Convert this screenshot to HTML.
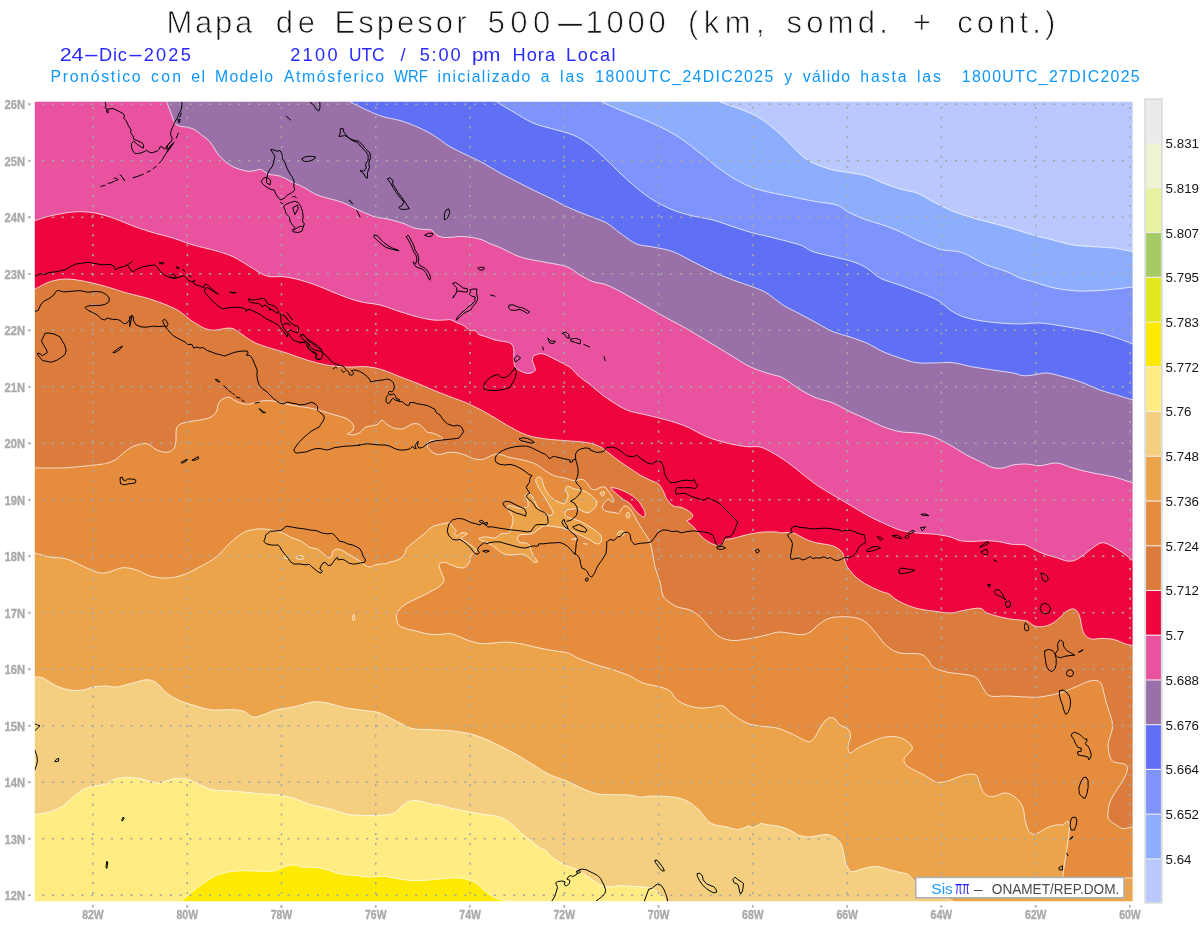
<!DOCTYPE html>
<html lang="es"><head><meta charset="utf-8"><title>Mapa de Espesor 500-1000</title>
<style>html,body{margin:0;padding:0;background:#fff}svg{display:block}</style></head>
<body>
<svg width="1200" height="927" viewBox="0 0 1200 927">
<rect width="1200" height="927" fill="#fff"/>
<defs><clipPath id="mc"><rect x="34" y="101" width="1100" height="801"/></clipPath></defs>
<g clip-path="url(#mc)">
<rect x="30" y="98" width="1110" height="810" fill="#b9c8ff"/>
<path d="M720 102 C725 103.8 742.2 109.5 750 113 C757.8 116.5 761.2 119 766.7 123 C772.2 127 777.5 131.5 783 136.7 C788.5 141.9 795 149.6 800 154 C805 158.4 807.5 160.3 813 163 C818.5 165.7 826.8 168.4 833 170 C839.2 171.6 844.4 171.7 850 172.7 C855.6 173.7 861.2 174.3 866.7 176 C872.2 177.7 877.5 180.8 883 183 C888.5 185.2 894.4 187.3 900 189 C905.6 190.7 911.2 190.9 916.7 193 C922.2 195.1 927.5 198.9 933 201.7 C938.5 204.5 944.4 207.6 950 210 C955.6 212.4 960.6 214.1 966.7 216 C972.8 217.9 980 219.9 986.7 221.7 C993.4 223.5 999 224.8 1006.7 227 C1014.4 229.2 1025.3 232.8 1033 235 C1040.7 237.2 1046.3 238.3 1053 240 C1059.7 241.7 1066.3 243.9 1073 245 C1079.7 246.1 1086.3 246.2 1093 246.7 C1099.7 247.2 1106.3 247.2 1113 248 C1119.7 248.8 1129.7 251.1 1133 251.7 L1134 251 L1134 903 L32 903 L32 99 L720 99 Z" fill="#8daeff"/>
<path d="M720 102 C725 103.8 742.2 109.5 750 113 C757.8 116.5 761.2 119 766.7 123 C772.2 127 777.5 131.5 783 136.7 C788.5 141.9 795 149.6 800 154 C805 158.4 807.5 160.3 813 163 C818.5 165.7 826.8 168.4 833 170 C839.2 171.6 844.4 171.7 850 172.7 C855.6 173.7 861.2 174.3 866.7 176 C872.2 177.7 877.5 180.8 883 183 C888.5 185.2 894.4 187.3 900 189 C905.6 190.7 911.2 190.9 916.7 193 C922.2 195.1 927.5 198.9 933 201.7 C938.5 204.5 944.4 207.6 950 210 C955.6 212.4 960.6 214.1 966.7 216 C972.8 217.9 980 219.9 986.7 221.7 C993.4 223.5 999 224.8 1006.7 227 C1014.4 229.2 1025.3 232.8 1033 235 C1040.7 237.2 1046.3 238.3 1053 240 C1059.7 241.7 1066.3 243.9 1073 245 C1079.7 246.1 1086.3 246.2 1093 246.7 C1099.7 247.2 1106.3 247.2 1113 248 C1119.7 248.8 1129.7 251.1 1133 251.7" fill="none" stroke="#fff" stroke-opacity=".92" stroke-width=".8"/>

<path d="M601.7 102 C604.8 103.3 613.6 107.3 620 110 C626.4 112.7 633.3 115.2 640 118 C646.7 120.8 653.3 123.4 660 126.7 C666.7 130 673.3 133.6 680 138 C686.7 142.4 693.9 148.2 700 153 C706.1 157.8 711.2 162.5 716.7 166.7 C722.2 170.9 727.5 174.7 733 178 C738.5 181.3 744.4 184.4 750 186.7 C755.6 189 761.2 190.3 766.7 191.7 C772.2 193.1 777.5 193.9 783 195 C788.5 196.1 794.4 197.4 800 198.5 C805.6 199.6 810.6 200.6 816.7 201.7 C822.8 202.8 831.2 203.1 836.7 205 C842.2 206.9 845 210.5 850 213 C855 215.5 861.2 218 866.7 220 C872.2 222 877.5 223.1 883 225 C888.5 226.9 894.4 229.2 900 231.7 C905.6 234.2 911.2 237.5 916.7 240 C922.2 242.5 928.6 245 933 246.7 C937.4 248.4 938.5 249.1 943 250 C947.5 250.9 955 250.7 960 252 C965 253.3 968.5 255.8 973 258 C977.5 260.2 981.1 262.7 986.7 265 C992.3 267.3 1001.2 269.5 1006.7 271.7 C1012.2 273.9 1015.6 276.3 1020 278 C1024.4 279.7 1027.5 280.1 1033 281.7 C1038.5 283.3 1046.3 286.2 1053 287.7 C1059.7 289.2 1067.4 290.1 1073 290.7 C1078.6 291.2 1081.1 291.1 1086.7 291 C1092.3 290.9 1099 290.7 1106.7 290 C1114.4 289.3 1128.6 287.5 1133 287 L1134 287 L1134 903 L32 903 L32 99 L601.7 99 Z" fill="#7e93fc"/>
<path d="M601.7 102 C604.8 103.3 613.6 107.3 620 110 C626.4 112.7 633.3 115.2 640 118 C646.7 120.8 653.3 123.4 660 126.7 C666.7 130 673.3 133.6 680 138 C686.7 142.4 693.9 148.2 700 153 C706.1 157.8 711.2 162.5 716.7 166.7 C722.2 170.9 727.5 174.7 733 178 C738.5 181.3 744.4 184.4 750 186.7 C755.6 189 761.2 190.3 766.7 191.7 C772.2 193.1 777.5 193.9 783 195 C788.5 196.1 794.4 197.4 800 198.5 C805.6 199.6 810.6 200.6 816.7 201.7 C822.8 202.8 831.2 203.1 836.7 205 C842.2 206.9 845 210.5 850 213 C855 215.5 861.2 218 866.7 220 C872.2 222 877.5 223.1 883 225 C888.5 226.9 894.4 229.2 900 231.7 C905.6 234.2 911.2 237.5 916.7 240 C922.2 242.5 928.6 245 933 246.7 C937.4 248.4 938.5 249.1 943 250 C947.5 250.9 955 250.7 960 252 C965 253.3 968.5 255.8 973 258 C977.5 260.2 981.1 262.7 986.7 265 C992.3 267.3 1001.2 269.5 1006.7 271.7 C1012.2 273.9 1015.6 276.3 1020 278 C1024.4 279.7 1027.5 280.1 1033 281.7 C1038.5 283.3 1046.3 286.2 1053 287.7 C1059.7 289.2 1067.4 290.1 1073 290.7 C1078.6 291.2 1081.1 291.1 1086.7 291 C1092.3 290.9 1099 290.7 1106.7 290 C1114.4 289.3 1128.6 287.5 1133 287" fill="none" stroke="#fff" stroke-opacity=".92" stroke-width=".8"/>

<path d="M496.7 102 C499.4 103.6 506.9 108.2 513 111.7 C519 115.2 526.3 120.1 533 123 C539.7 125.9 546.3 127 553 129 C559.7 131 566.8 132.3 573 135 C579.2 137.7 584.4 140.8 590 145 C595.6 149.2 601.7 155.3 606.7 160 C611.7 164.7 615 168.3 620 173 C625 177.7 631.2 183.5 636.7 188 C642.2 192.5 647 196.3 653 200 C659 203.7 666.3 207.3 673 210 C679.7 212.7 686.3 214.3 693 216 C699.7 217.7 706.3 218.2 713 220 C719.7 221.8 726.3 224.5 733 226.7 C739.7 228.9 746.3 231.2 753 233 C759.7 234.8 765.2 235.7 773 237.7 C780.8 239.7 793.3 242.7 800 245 C806.7 247.3 807.5 249.8 813 251.7 C818.5 253.6 826.3 255 833 256.7 C839.7 258.4 847.4 259.8 853 261.7 C858.6 263.6 862.2 265.3 866.7 268 C871.2 270.7 875 275.3 880 278 C885 280.7 891.2 282 896.7 284 C902.2 286 907 287.7 913 290 C919 292.3 928.2 295.8 933 298 C937.8 300.2 938.9 301 941.7 303 C944.5 305 946.5 307.7 950 310 C953.5 312.3 958 314.9 963 316.7 C968 318.5 973.8 319.6 980 320.7 C986.2 321.8 993.3 322.4 1000 323 C1006.7 323.6 1013.3 324 1020 324 C1026.7 324 1033.3 322.7 1040 323 C1046.7 323.3 1053.3 324.7 1060 325.7 C1066.7 326.7 1073.3 327.8 1080 329 C1086.7 330.2 1093.9 331.5 1100 333 C1106.1 334.5 1111.2 336.2 1116.7 338 C1122.2 339.8 1130.3 343 1133 344 L1134 344 L1134 903 L32 903 L32 99 L496.7 99 Z" fill="#6070f5"/>
<path d="M496.7 102 C499.4 103.6 506.9 108.2 513 111.7 C519 115.2 526.3 120.1 533 123 C539.7 125.9 546.3 127 553 129 C559.7 131 566.8 132.3 573 135 C579.2 137.7 584.4 140.8 590 145 C595.6 149.2 601.7 155.3 606.7 160 C611.7 164.7 615 168.3 620 173 C625 177.7 631.2 183.5 636.7 188 C642.2 192.5 647 196.3 653 200 C659 203.7 666.3 207.3 673 210 C679.7 212.7 686.3 214.3 693 216 C699.7 217.7 706.3 218.2 713 220 C719.7 221.8 726.3 224.5 733 226.7 C739.7 228.9 746.3 231.2 753 233 C759.7 234.8 765.2 235.7 773 237.7 C780.8 239.7 793.3 242.7 800 245 C806.7 247.3 807.5 249.8 813 251.7 C818.5 253.6 826.3 255 833 256.7 C839.7 258.4 847.4 259.8 853 261.7 C858.6 263.6 862.2 265.3 866.7 268 C871.2 270.7 875 275.3 880 278 C885 280.7 891.2 282 896.7 284 C902.2 286 907 287.7 913 290 C919 292.3 928.2 295.8 933 298 C937.8 300.2 938.9 301 941.7 303 C944.5 305 946.5 307.7 950 310 C953.5 312.3 958 314.9 963 316.7 C968 318.5 973.8 319.6 980 320.7 C986.2 321.8 993.3 322.4 1000 323 C1006.7 323.6 1013.3 324 1020 324 C1026.7 324 1033.3 322.7 1040 323 C1046.7 323.3 1053.3 324.7 1060 325.7 C1066.7 326.7 1073.3 327.8 1080 329 C1086.7 330.2 1093.9 331.5 1100 333 C1106.1 334.5 1111.2 336.2 1116.7 338 C1122.2 339.8 1130.3 343 1133 344" fill="none" stroke="#fff" stroke-opacity=".92" stroke-width=".8"/>

<path d="M350 102 C352.8 103.3 361.2 107.5 366.7 110 C372.2 112.5 377.4 115 383 116.7 C388.6 118.5 394.4 118.8 400 120.5 C405.6 122.2 411.2 124.3 416.7 126.7 C422.2 129.1 427.4 131.7 433 135 C438.6 138.3 444.4 143.4 450 146.7 C455.6 150 461.2 152.3 466.7 155 C472.2 157.7 477.4 160 483 163 C488.6 166 494.4 169.9 500 173 C505.6 176.1 511.2 178.9 516.7 181.7 C522.2 184.5 527.5 187.3 533 190 C538.5 192.7 544.4 195.2 550 198 C555.6 200.8 560.6 203.9 566.7 206.7 C572.8 209.5 580 212.3 586.7 215 C593.4 217.7 601.2 220 606.7 223 C612.2 226 615 229.5 620 233 C625 236.5 631.2 241.7 636.7 244 C642.2 246.3 647 245.7 653 247 C659 248.3 666.3 249.2 673 251.7 C679.7 254.1 686.3 258.4 693 261.7 C699.7 265 706.3 268.6 713 271.7 C719.7 274.8 726.3 277.4 733 280 C739.7 282.6 747.4 284.8 753 287 C758.6 289.2 761.7 290 766.7 293 C771.7 296 777.5 301.5 783 305 C788.5 308.5 794.4 311 800 314 C805.6 317 811.2 320.1 816.7 323 C822.2 325.9 827.5 329.4 833 331.7 C838.5 334 844.4 335.1 850 337 C855.6 338.9 861.2 340.6 866.7 343 C872.2 345.4 877.5 349.2 883 351.7 C888.5 354.2 894.4 356.2 900 358 C905.6 359.8 911.2 361.9 916.7 362.7 C922.2 363.5 927 363 933 363 C939 363 946.3 362 953 362.7 C959.7 363.4 966.3 365.8 973 367 C979.7 368.2 986.3 369 993 370 C999.7 371 1008 372.1 1013 373 C1018 373.9 1019.7 375.4 1023 375.7 C1026.3 376 1029 375.4 1033 375 C1037 374.6 1041.7 372.7 1046.7 373 C1051.7 373.3 1057.5 375.2 1063 376.7 C1068.5 378.1 1073.8 379.5 1080 381.7 C1086.2 383.9 1093.3 387.6 1100 390 C1106.7 392.4 1114.5 394.3 1120 396 C1125.5 397.7 1130.8 399.3 1133 400 L1134 400 L1134 903 L32 903 L32 99 L350 99 Z" fill="#9a70a8"/>
<path d="M350 102 C352.8 103.3 361.2 107.5 366.7 110 C372.2 112.5 377.4 115 383 116.7 C388.6 118.5 394.4 118.8 400 120.5 C405.6 122.2 411.2 124.3 416.7 126.7 C422.2 129.1 427.4 131.7 433 135 C438.6 138.3 444.4 143.4 450 146.7 C455.6 150 461.2 152.3 466.7 155 C472.2 157.7 477.4 160 483 163 C488.6 166 494.4 169.9 500 173 C505.6 176.1 511.2 178.9 516.7 181.7 C522.2 184.5 527.5 187.3 533 190 C538.5 192.7 544.4 195.2 550 198 C555.6 200.8 560.6 203.9 566.7 206.7 C572.8 209.5 580 212.3 586.7 215 C593.4 217.7 601.2 220 606.7 223 C612.2 226 615 229.5 620 233 C625 236.5 631.2 241.7 636.7 244 C642.2 246.3 647 245.7 653 247 C659 248.3 666.3 249.2 673 251.7 C679.7 254.1 686.3 258.4 693 261.7 C699.7 265 706.3 268.6 713 271.7 C719.7 274.8 726.3 277.4 733 280 C739.7 282.6 747.4 284.8 753 287 C758.6 289.2 761.7 290 766.7 293 C771.7 296 777.5 301.5 783 305 C788.5 308.5 794.4 311 800 314 C805.6 317 811.2 320.1 816.7 323 C822.2 325.9 827.5 329.4 833 331.7 C838.5 334 844.4 335.1 850 337 C855.6 338.9 861.2 340.6 866.7 343 C872.2 345.4 877.5 349.2 883 351.7 C888.5 354.2 894.4 356.2 900 358 C905.6 359.8 911.2 361.9 916.7 362.7 C922.2 363.5 927 363 933 363 C939 363 946.3 362 953 362.7 C959.7 363.4 966.3 365.8 973 367 C979.7 368.2 986.3 369 993 370 C999.7 371 1008 372.1 1013 373 C1018 373.9 1019.7 375.4 1023 375.7 C1026.3 376 1029 375.4 1033 375 C1037 374.6 1041.7 372.7 1046.7 373 C1051.7 373.3 1057.5 375.2 1063 376.7 C1068.5 378.1 1073.8 379.5 1080 381.7 C1086.2 383.9 1093.3 387.6 1100 390 C1106.7 392.4 1114.5 394.3 1120 396 C1125.5 397.7 1130.8 399.3 1133 400" fill="none" stroke="#fff" stroke-opacity=".92" stroke-width=".8"/>

<path d="M166.7 102 C167.3 103.5 168.8 107.5 170.2 111 C171.5 114.5 173.3 120.5 174.8 123 C176.3 125.5 177.6 125.3 179.3 126 C181.1 126.7 183 126.5 185.3 127 C187.6 127.5 190.8 127.8 193.3 129 C195.8 130.2 197.5 131.8 200.3 134 C203.1 136.2 206.7 138.2 210 142 C213.3 145.8 216.2 152.6 220 156.7 C223.8 160.8 228.6 164.3 233 166.7 C237.4 169.1 243 170.3 246.7 171 C250.4 171.7 252.7 170.9 255 170.6 C257.3 170.3 258.5 168.9 260.6 169.4 C262.7 169.9 265.3 172.8 267.5 173.8 C269.7 174.7 271.7 174.6 273.8 175 C275.8 175.4 277.9 175.6 280 176.2 C282.1 176.9 284.2 177.7 286.2 178.8 C288.3 179.8 290.4 181.5 292.5 182.5 C294.6 183.5 296.7 184.1 298.8 185 C300.8 185.9 302.9 186.9 305 188.1 C307.1 189.2 309.2 190.8 311.2 191.9 C313.3 193.1 315.4 194.1 317.5 195 C319.6 195.9 321.7 196.6 323.8 197.2 C325.8 197.9 327.9 198.2 330 198.8 C332.1 199.3 334.2 199.8 336.2 200.4 C338.3 201 340.4 201.7 342.5 202.5 C344.6 203.3 346.7 204.4 348.8 205.4 C350.8 206.4 352.9 207.4 355 208.4 C357.1 209.4 359.2 210.3 361.2 211.2 C363.3 212.2 365.2 213.1 367.5 214 C369.8 214.9 371.9 216.1 375 216.9 C378.1 217.7 382.9 218.1 386.2 218.8 C389.6 219.4 391.9 220.1 395 221 C398.1 221.9 401.9 222.8 405 224 C408.1 225.2 410.6 227.1 413.8 228 C416.9 228.9 420.8 229.1 423.8 229.4 C426.7 229.7 429 229 431.2 230 C433.5 231 435.2 234.3 437.5 235.6 C439.8 236.8 442.1 237.3 445 237.5 C447.9 237.7 452.1 237.1 455 236.9 C457.9 236.7 459.6 236.4 462.5 236.5 C465.4 236.6 469.2 236.9 472.5 237.5 C475.8 238.1 479.6 239 482.5 240 C485.4 241 487.1 242.5 490 243.8 C492.9 245 496.7 246 500 247.5 C503.3 249 506.7 250.9 510 252.5 C513.3 254.1 516.7 255.7 520 256.9 C523.3 258 525.8 258.5 530 259.4 C534.2 260.3 538.9 261 545 262.2 C551.1 263.5 560.9 264.6 566.7 266.7 C572.5 268.8 575.6 272.5 580 275 C584.4 277.5 588.5 280 593 281.7 C597.5 283.4 601.1 282.8 606.7 285 C612.3 287.2 620 291.4 626.7 295 C633.4 298.6 640 302.9 646.7 306.7 C653.4 310.5 660.7 314.7 666.7 318 C672.8 321.3 677.5 323.6 683 326.7 C688.5 329.8 694.4 333.4 700 336.7 C705.6 340 711.2 343.4 716.7 346.7 C722.2 350 727.5 353.4 733 356.7 C738.5 360 744.4 364 750 366.7 C755.6 369.4 761.2 371.1 766.7 373 C772.2 374.9 777.5 375.2 783 378 C788.5 380.8 794.4 386.2 800 389.5 C805.6 392.8 811.2 395.8 816.7 398 C822.2 400.2 827.5 400.7 833 403 C838.5 405.3 844.4 409 850 411.7 C855.6 414.4 861.2 416.5 866.7 419 C872.2 421.5 877.5 424.6 883 426.7 C888.5 428.8 894.4 430.6 900 431.7 C905.6 432.8 911.2 432.2 916.7 433 C922.2 433.8 927.5 434.7 933 436.7 C938.5 438.7 944.4 441.9 950 445 C955.6 448.1 961.2 452 966.7 455 C972.2 458 978.6 460.9 983 463 C987.4 465.1 989.7 466.9 993 467.7 C996.3 468.5 999.7 468.4 1003 468 C1006.3 467.6 1009 465.7 1013 465 C1017 464.3 1022.2 463.9 1026.7 464 C1031.2 464.1 1035 465.9 1040 465.7 C1045 465.5 1051.2 462.6 1056.7 463 C1062.2 463.4 1067 466.3 1073 468 C1079 469.7 1086.3 471.6 1093 473 C1099.7 474.4 1106.3 475 1113 476.7 C1119.7 478.4 1129.7 481.9 1133 483 L1134 483 L1134 903 L32 903 L32 99 L166.7 99 Z" fill="#e8529f"/>
<path d="M166.7 102 C167.3 103.5 168.8 107.5 170.2 111 C171.5 114.5 173.3 120.5 174.8 123 C176.3 125.5 177.6 125.3 179.3 126 C181.1 126.7 183 126.5 185.3 127 C187.6 127.5 190.8 127.8 193.3 129 C195.8 130.2 197.5 131.8 200.3 134 C203.1 136.2 206.7 138.2 210 142 C213.3 145.8 216.2 152.6 220 156.7 C223.8 160.8 228.6 164.3 233 166.7 C237.4 169.1 243 170.3 246.7 171 C250.4 171.7 252.7 170.9 255 170.6 C257.3 170.3 258.5 168.9 260.6 169.4 C262.7 169.9 265.3 172.8 267.5 173.8 C269.7 174.7 271.7 174.6 273.8 175 C275.8 175.4 277.9 175.6 280 176.2 C282.1 176.9 284.2 177.7 286.2 178.8 C288.3 179.8 290.4 181.5 292.5 182.5 C294.6 183.5 296.7 184.1 298.8 185 C300.8 185.9 302.9 186.9 305 188.1 C307.1 189.2 309.2 190.8 311.2 191.9 C313.3 193.1 315.4 194.1 317.5 195 C319.6 195.9 321.7 196.6 323.8 197.2 C325.8 197.9 327.9 198.2 330 198.8 C332.1 199.3 334.2 199.8 336.2 200.4 C338.3 201 340.4 201.7 342.5 202.5 C344.6 203.3 346.7 204.4 348.8 205.4 C350.8 206.4 352.9 207.4 355 208.4 C357.1 209.4 359.2 210.3 361.2 211.2 C363.3 212.2 365.2 213.1 367.5 214 C369.8 214.9 371.9 216.1 375 216.9 C378.1 217.7 382.9 218.1 386.2 218.8 C389.6 219.4 391.9 220.1 395 221 C398.1 221.9 401.9 222.8 405 224 C408.1 225.2 410.6 227.1 413.8 228 C416.9 228.9 420.8 229.1 423.8 229.4 C426.7 229.7 429 229 431.2 230 C433.5 231 435.2 234.3 437.5 235.6 C439.8 236.8 442.1 237.3 445 237.5 C447.9 237.7 452.1 237.1 455 236.9 C457.9 236.7 459.6 236.4 462.5 236.5 C465.4 236.6 469.2 236.9 472.5 237.5 C475.8 238.1 479.6 239 482.5 240 C485.4 241 487.1 242.5 490 243.8 C492.9 245 496.7 246 500 247.5 C503.3 249 506.7 250.9 510 252.5 C513.3 254.1 516.7 255.7 520 256.9 C523.3 258 525.8 258.5 530 259.4 C534.2 260.3 538.9 261 545 262.2 C551.1 263.5 560.9 264.6 566.7 266.7 C572.5 268.8 575.6 272.5 580 275 C584.4 277.5 588.5 280 593 281.7 C597.5 283.4 601.1 282.8 606.7 285 C612.3 287.2 620 291.4 626.7 295 C633.4 298.6 640 302.9 646.7 306.7 C653.4 310.5 660.7 314.7 666.7 318 C672.8 321.3 677.5 323.6 683 326.7 C688.5 329.8 694.4 333.4 700 336.7 C705.6 340 711.2 343.4 716.7 346.7 C722.2 350 727.5 353.4 733 356.7 C738.5 360 744.4 364 750 366.7 C755.6 369.4 761.2 371.1 766.7 373 C772.2 374.9 777.5 375.2 783 378 C788.5 380.8 794.4 386.2 800 389.5 C805.6 392.8 811.2 395.8 816.7 398 C822.2 400.2 827.5 400.7 833 403 C838.5 405.3 844.4 409 850 411.7 C855.6 414.4 861.2 416.5 866.7 419 C872.2 421.5 877.5 424.6 883 426.7 C888.5 428.8 894.4 430.6 900 431.7 C905.6 432.8 911.2 432.2 916.7 433 C922.2 433.8 927.5 434.7 933 436.7 C938.5 438.7 944.4 441.9 950 445 C955.6 448.1 961.2 452 966.7 455 C972.2 458 978.6 460.9 983 463 C987.4 465.1 989.7 466.9 993 467.7 C996.3 468.5 999.7 468.4 1003 468 C1006.3 467.6 1009 465.7 1013 465 C1017 464.3 1022.2 463.9 1026.7 464 C1031.2 464.1 1035 465.9 1040 465.7 C1045 465.5 1051.2 462.6 1056.7 463 C1062.2 463.4 1067 466.3 1073 468 C1079 469.7 1086.3 471.6 1093 473 C1099.7 474.4 1106.3 475 1113 476.7 C1119.7 478.4 1129.7 481.9 1133 483" fill="none" stroke="#fff" stroke-opacity=".92" stroke-width=".8"/>

<path d="M35 220.7 C37.5 219.9 43.7 217.4 50 216 C56.3 214.6 65.8 212.6 73 212 C80.2 211.4 86.3 211.7 93 212.7 C99.7 213.7 106.3 215.8 113 218 C119.7 220.2 126.3 223.6 133 226 C139.7 228.4 146.3 230.7 153 232.7 C159.7 234.7 166.3 235.9 173 238 C179.7 240.1 186.3 243 193 245 C199.7 247 206.3 248.1 213 250 C219.7 251.9 226.8 253.9 233 256.7 C239.2 259.5 244.4 263.5 250 266.7 C255.6 269.9 261.2 274.3 266.7 276 C272.2 277.7 277.4 276 283 276.7 C288.6 277.4 293.8 278.3 300 280 C306.2 281.7 313.3 284.2 320 286.7 C326.7 289.2 333.3 292.5 340 295 C346.7 297.5 353.3 300 360 301.7 C366.7 303.4 373.3 303.3 380 305 C386.7 306.7 393.9 309.8 400 311.7 C406.1 313.6 411.2 315.3 416.7 316.7 C422.2 318.1 428.3 319.4 433 320 C437.7 320.6 442.1 320 445 320 C447.9 320 448.7 319.3 450.6 319.8 C452.5 320.2 454.1 321.5 456.2 322.5 C458.4 323.5 461.5 324.2 463.8 325.6 C466 327 468.1 329.8 470 330.6 C471.9 331.4 473.5 330 475 330.6 C476.5 331.2 476.9 333.3 478.8 334.4 C480.6 335.4 483.5 336 486.2 336.9 C489 337.8 492.1 339.2 495 340 C497.9 340.8 501.2 341 503.8 341.5 C506.2 342 508.5 342.2 510 343 C511.5 343.8 512.4 344.9 513 346.2 C513.6 347.6 513.6 349.4 513.8 351.2 C513.9 353.1 513.6 355.2 513.8 357.5 C513.9 359.8 513.9 363.1 514.4 365 C514.9 366.9 515.5 367.6 516.9 368.8 C518.2 369.9 520.7 371.1 522.5 371.9 C524.3 372.7 525.8 373.4 527.5 373.5 C529.2 373.6 531.2 373.1 532.5 372.5 C533.8 371.9 534.9 371 535.2 370 C535.6 369 534.9 367.7 534.4 366.2 C533.9 364.8 532.7 362.8 532.5 361.2 C532.3 359.7 532.3 358 533 356.9 C533.7 355.8 535.3 354.9 536.9 354.4 C538.5 353.9 540.5 353.4 542.5 353.8 C544.5 354.1 546.2 355.1 548.8 356.2 C551.2 357.4 554.6 359.1 557.5 360.6 C560.4 362.1 563.8 363.5 566.2 365 C568.8 366.5 570.6 367.7 572.5 369.4 C574.4 371.1 575.6 373.2 577.5 375 C579.4 376.8 581.7 378.4 583.8 380 C585.8 381.6 588.1 382.9 590 384.4 C591.9 385.9 592.2 386.5 595 388.8 C597.8 391 601.4 394.5 606.7 398 C612 401.5 620 407.2 626.7 410 C633.4 412.8 640 413.3 646.7 415 C653.4 416.7 660 418.1 666.7 420 C673.4 421.9 680 423.9 686.7 426.7 C693.4 429.5 700 434 706.7 436.7 C713.4 439.4 720 441.3 726.7 443 C733.4 444.7 741.2 446 746.7 446.7 C752.2 447.4 755.6 445.9 760 447 C764.4 448.1 768.5 450.6 773 453 C777.5 455.4 782.2 458.5 786.7 461.7 C791.2 464.9 795 468.1 800 472 C805 475.9 811.2 481.2 816.7 485 C822.2 488.8 827.5 491.7 833 495 C838.5 498.3 844.4 501.7 850 505 C855.6 508.3 861.2 512 866.7 515 C872.2 518 877.5 520.5 883 523 C888.5 525.5 894.4 528.3 900 530 C905.6 531.7 911.2 532.3 916.7 533 C922.2 533.7 927.5 533.4 933 534 C938.5 534.6 945.5 535.8 950 536.9 C954.5 538 956.2 539.8 960 540.6 C963.8 541.4 967.9 541.5 972.5 541.5 C977.1 541.5 982.9 540.5 987.5 540.6 C992.1 540.7 995.8 541.3 1000 541.9 C1004.2 542.5 1008.3 543.9 1012.5 544.4 C1016.7 544.9 1021.2 544.1 1025 545 C1028.8 545.9 1031.7 548.4 1035 550 C1038.3 551.6 1041.5 553.1 1045 554.4 C1048.5 555.6 1052.9 556.5 1056.2 557.5 C1059.6 558.5 1062.3 560 1065 560.6 C1067.7 561.2 1070 561.5 1072.5 561 C1075 560.5 1077.5 559 1080 557.5 C1082.5 556 1085 553.8 1087.5 551.9 C1090 550 1092.4 547.8 1095 546.2 C1097.6 544.7 1100 542.6 1103 542.7 C1106 542.8 1109.7 545 1113 546.7 C1116.3 548.4 1119.7 550.7 1123 553 C1126.3 555.3 1131.3 559.4 1133 560.7 L1134 560 L1134 903 L32 903 L32 220.7 Z" fill="#ef053d"/>
<path d="M35 220.7 C37.5 219.9 43.7 217.4 50 216 C56.3 214.6 65.8 212.6 73 212 C80.2 211.4 86.3 211.7 93 212.7 C99.7 213.7 106.3 215.8 113 218 C119.7 220.2 126.3 223.6 133 226 C139.7 228.4 146.3 230.7 153 232.7 C159.7 234.7 166.3 235.9 173 238 C179.7 240.1 186.3 243 193 245 C199.7 247 206.3 248.1 213 250 C219.7 251.9 226.8 253.9 233 256.7 C239.2 259.5 244.4 263.5 250 266.7 C255.6 269.9 261.2 274.3 266.7 276 C272.2 277.7 277.4 276 283 276.7 C288.6 277.4 293.8 278.3 300 280 C306.2 281.7 313.3 284.2 320 286.7 C326.7 289.2 333.3 292.5 340 295 C346.7 297.5 353.3 300 360 301.7 C366.7 303.4 373.3 303.3 380 305 C386.7 306.7 393.9 309.8 400 311.7 C406.1 313.6 411.2 315.3 416.7 316.7 C422.2 318.1 428.3 319.4 433 320 C437.7 320.6 442.1 320 445 320 C447.9 320 448.7 319.3 450.6 319.8 C452.5 320.2 454.1 321.5 456.2 322.5 C458.4 323.5 461.5 324.2 463.8 325.6 C466 327 468.1 329.8 470 330.6 C471.9 331.4 473.5 330 475 330.6 C476.5 331.2 476.9 333.3 478.8 334.4 C480.6 335.4 483.5 336 486.2 336.9 C489 337.8 492.1 339.2 495 340 C497.9 340.8 501.2 341 503.8 341.5 C506.2 342 508.5 342.2 510 343 C511.5 343.8 512.4 344.9 513 346.2 C513.6 347.6 513.6 349.4 513.8 351.2 C513.9 353.1 513.6 355.2 513.8 357.5 C513.9 359.8 513.9 363.1 514.4 365 C514.9 366.9 515.5 367.6 516.9 368.8 C518.2 369.9 520.7 371.1 522.5 371.9 C524.3 372.7 525.8 373.4 527.5 373.5 C529.2 373.6 531.2 373.1 532.5 372.5 C533.8 371.9 534.9 371 535.2 370 C535.6 369 534.9 367.7 534.4 366.2 C533.9 364.8 532.7 362.8 532.5 361.2 C532.3 359.7 532.3 358 533 356.9 C533.7 355.8 535.3 354.9 536.9 354.4 C538.5 353.9 540.5 353.4 542.5 353.8 C544.5 354.1 546.2 355.1 548.8 356.2 C551.2 357.4 554.6 359.1 557.5 360.6 C560.4 362.1 563.8 363.5 566.2 365 C568.8 366.5 570.6 367.7 572.5 369.4 C574.4 371.1 575.6 373.2 577.5 375 C579.4 376.8 581.7 378.4 583.8 380 C585.8 381.6 588.1 382.9 590 384.4 C591.9 385.9 592.2 386.5 595 388.8 C597.8 391 601.4 394.5 606.7 398 C612 401.5 620 407.2 626.7 410 C633.4 412.8 640 413.3 646.7 415 C653.4 416.7 660 418.1 666.7 420 C673.4 421.9 680 423.9 686.7 426.7 C693.4 429.5 700 434 706.7 436.7 C713.4 439.4 720 441.3 726.7 443 C733.4 444.7 741.2 446 746.7 446.7 C752.2 447.4 755.6 445.9 760 447 C764.4 448.1 768.5 450.6 773 453 C777.5 455.4 782.2 458.5 786.7 461.7 C791.2 464.9 795 468.1 800 472 C805 475.9 811.2 481.2 816.7 485 C822.2 488.8 827.5 491.7 833 495 C838.5 498.3 844.4 501.7 850 505 C855.6 508.3 861.2 512 866.7 515 C872.2 518 877.5 520.5 883 523 C888.5 525.5 894.4 528.3 900 530 C905.6 531.7 911.2 532.3 916.7 533 C922.2 533.7 927.5 533.4 933 534 C938.5 534.6 945.5 535.8 950 536.9 C954.5 538 956.2 539.8 960 540.6 C963.8 541.4 967.9 541.5 972.5 541.5 C977.1 541.5 982.9 540.5 987.5 540.6 C992.1 540.7 995.8 541.3 1000 541.9 C1004.2 542.5 1008.3 543.9 1012.5 544.4 C1016.7 544.9 1021.2 544.1 1025 545 C1028.8 545.9 1031.7 548.4 1035 550 C1038.3 551.6 1041.5 553.1 1045 554.4 C1048.5 555.6 1052.9 556.5 1056.2 557.5 C1059.6 558.5 1062.3 560 1065 560.6 C1067.7 561.2 1070 561.5 1072.5 561 C1075 560.5 1077.5 559 1080 557.5 C1082.5 556 1085 553.8 1087.5 551.9 C1090 550 1092.4 547.8 1095 546.2 C1097.6 544.7 1100 542.6 1103 542.7 C1106 542.8 1109.7 545 1113 546.7 C1116.3 548.4 1119.7 550.7 1123 553 C1126.3 555.3 1131.3 559.4 1133 560.7" fill="none" stroke="#fff" stroke-opacity=".92" stroke-width=".8"/>

<path d="M35 289 C37.5 287.8 44.7 283.4 50 281.7 C55.3 280 60.6 279 66.7 279 C72.8 279 80 280.4 86.7 281.7 C93.4 283 100 284.8 106.7 286.7 C113.4 288.6 120 291.1 126.7 293 C133.4 294.9 140 296 146.7 298 C153.4 300 161.1 302.7 166.7 305 C172.2 307.3 175.6 308.9 180 311.7 C184.4 314.5 188 318.6 193 321.7 C198 324.8 203.8 328.9 210 330 C216.2 331.1 225 327.5 230 328 C235 328.5 236.2 330.7 240 333 C243.8 335.3 248.6 339.4 253 341.7 C257.4 344 261.1 345.1 266.7 347 C272.3 348.9 280 350.8 286.7 353 C293.4 355.2 300 358 306.7 360 C313.4 362 320 363.8 326.7 365 C333.4 366.2 340 366.7 346.7 367 C353.4 367.3 360.6 366.2 366.7 366.7 C372.8 367.2 377.4 368.3 383 370 C388.6 371.7 394.4 374.5 400 376.7 C405.6 378.9 411.2 380.8 416.7 383 C422.2 385.2 427.4 387.7 433 390 C438.6 392.3 444.4 394.5 450 396.7 C455.6 398.9 460.6 400.3 466.7 403 C472.8 405.7 480 409.3 486.7 413 C493.4 416.7 500 421.3 506.7 425 C513.4 428.7 520 432.7 526.7 435 C533.4 437.3 540 438.1 546.7 439 C553.4 439.9 560 440.1 566.7 440.7 C573.4 441.3 581.2 441.5 586.7 442.5 C592.2 443.5 596.1 444.8 600 446.7 C603.9 448.6 606.7 451.5 610 454 C613.3 456.5 616.7 459.3 620 461.7 C623.3 464.1 626.7 466.2 630 468.4 C633.3 470.6 636.7 473.1 640 475 C643.3 476.9 646.9 478.5 650 480 C653.1 481.5 656.3 482 658.6 484 C660.9 486 662.2 489.2 663.6 491.8 C665 494.4 665.3 497 667 499.4 C668.7 501.8 671.4 504.7 673.6 506 C675.8 507.3 677.8 506.3 680 507 C682.2 507.7 684.9 508.7 687 510 C689.1 511.3 692.3 513.4 692.8 515 C693.3 516.6 691 518.4 690 519.4 C689 520.4 686.4 519.7 687 521 C687.6 522.3 691.5 524.7 693.7 527 C695.9 529.3 697.8 532.7 700 535 C702.2 537.3 704.4 539.3 707 541 C709.6 542.7 712.9 544.4 715.4 545 C717.9 545.6 720.6 545.3 722 544.5 C723.4 543.7 722.1 541 723.8 540 C725.5 539 729 539.4 732 538.7 C735 538 738.7 536.9 742 536 C745.3 535.1 748.3 534.3 752 533.6 C755.7 532.9 759.8 532.3 764 532 C768.2 531.7 774.3 531.9 777 532 C779.7 532.1 777.4 532.6 780 532.8 C782.6 532.9 789.2 532.2 792.5 532.8 C795.8 533.3 797.3 534.9 800 536.2 C802.7 537.6 805.8 539.5 808.8 540.6 C811.7 541.7 814.6 542.4 817.5 543 C820.4 543.6 823.5 543.9 826.2 544.4 C829 544.9 831.5 545.3 833.8 546.2 C836 547.2 838.5 548.8 840 550 C841.5 551.2 842.3 552.3 843 553.8 C843.7 555.2 843.9 556.9 844.4 558.8 C844.9 560.6 845.3 563 846.2 565 C847.2 567 848.5 568.7 850 570.6 C851.5 572.5 853.1 574.5 855 576.2 C856.9 578 859.2 579.8 861.2 581.2 C863.3 582.7 865.2 583.8 867.5 585 C869.8 586.2 872.5 587.6 875 588.8 C877.5 589.9 880.2 591.1 882.5 591.9 C884.8 592.7 886.7 592.6 888.8 593.8 C890.8 594.9 892.7 597.2 895 598.8 C897.3 600.3 900 601.8 902.5 603 C905 604.2 907.5 605.3 910 606.2 C912.5 607.2 915 607.9 917.5 608.5 C920 609.1 922.4 609.6 925 610 C927.6 610.4 928.8 610.5 933 611 C937.2 611.5 945.5 613 950 613 C954.5 613 956.2 612 960 611.2 C963.8 610.5 969 609.2 972.5 608.8 C976 608.3 979 607.9 981.2 608.5 C983.5 609.1 983.5 611.2 986.2 612.5 C989 613.8 993.8 615.2 997.5 616.2 C1001.2 617.3 1005 618.1 1008.8 618.8 C1012.5 619.4 1016.9 619.6 1020 620 C1023.1 620.4 1025 620.2 1027.5 621.2 C1030 622.3 1032.1 625.4 1035 626.2 C1037.9 627.1 1041.9 626.9 1045 626.2 C1048.1 625.6 1051 624.2 1053.8 622.5 C1056.5 620.8 1059 618.2 1061.2 616.2 C1063.5 614.3 1065.4 611.8 1067.5 610.6 C1069.6 609.4 1072 608.7 1073.8 609 C1075.5 609.3 1076.9 610.7 1078 612.5 C1079.1 614.3 1079.9 617.5 1080.6 620 C1081.2 622.5 1081.2 625 1081.9 627.5 C1082.6 630 1083.4 633.1 1085 635 C1086.6 636.9 1088.8 638.4 1091.2 639 C1093.8 639.6 1096.9 638.5 1100 638.5 C1103.1 638.5 1107.1 638.4 1110 638.8 C1112.9 639.1 1115 639.8 1117.5 640.6 C1120 641.4 1122.4 642.9 1125 643.8 C1127.6 644.6 1131.7 645.3 1133 645.6 L1134 645 L1134 903 L32 903 L32 289 Z" fill="#db7c3c"/>
<path d="M35 289 C37.5 287.8 44.7 283.4 50 281.7 C55.3 280 60.6 279 66.7 279 C72.8 279 80 280.4 86.7 281.7 C93.4 283 100 284.8 106.7 286.7 C113.4 288.6 120 291.1 126.7 293 C133.4 294.9 140 296 146.7 298 C153.4 300 161.1 302.7 166.7 305 C172.2 307.3 175.6 308.9 180 311.7 C184.4 314.5 188 318.6 193 321.7 C198 324.8 203.8 328.9 210 330 C216.2 331.1 225 327.5 230 328 C235 328.5 236.2 330.7 240 333 C243.8 335.3 248.6 339.4 253 341.7 C257.4 344 261.1 345.1 266.7 347 C272.3 348.9 280 350.8 286.7 353 C293.4 355.2 300 358 306.7 360 C313.4 362 320 363.8 326.7 365 C333.4 366.2 340 366.7 346.7 367 C353.4 367.3 360.6 366.2 366.7 366.7 C372.8 367.2 377.4 368.3 383 370 C388.6 371.7 394.4 374.5 400 376.7 C405.6 378.9 411.2 380.8 416.7 383 C422.2 385.2 427.4 387.7 433 390 C438.6 392.3 444.4 394.5 450 396.7 C455.6 398.9 460.6 400.3 466.7 403 C472.8 405.7 480 409.3 486.7 413 C493.4 416.7 500 421.3 506.7 425 C513.4 428.7 520 432.7 526.7 435 C533.4 437.3 540 438.1 546.7 439 C553.4 439.9 560 440.1 566.7 440.7 C573.4 441.3 581.2 441.5 586.7 442.5 C592.2 443.5 596.1 444.8 600 446.7 C603.9 448.6 606.7 451.5 610 454 C613.3 456.5 616.7 459.3 620 461.7 C623.3 464.1 626.7 466.2 630 468.4 C633.3 470.6 636.7 473.1 640 475 C643.3 476.9 646.9 478.5 650 480 C653.1 481.5 656.3 482 658.6 484 C660.9 486 662.2 489.2 663.6 491.8 C665 494.4 665.3 497 667 499.4 C668.7 501.8 671.4 504.7 673.6 506 C675.8 507.3 677.8 506.3 680 507 C682.2 507.7 684.9 508.7 687 510 C689.1 511.3 692.3 513.4 692.8 515 C693.3 516.6 691 518.4 690 519.4 C689 520.4 686.4 519.7 687 521 C687.6 522.3 691.5 524.7 693.7 527 C695.9 529.3 697.8 532.7 700 535 C702.2 537.3 704.4 539.3 707 541 C709.6 542.7 712.9 544.4 715.4 545 C717.9 545.6 720.6 545.3 722 544.5 C723.4 543.7 722.1 541 723.8 540 C725.5 539 729 539.4 732 538.7 C735 538 738.7 536.9 742 536 C745.3 535.1 748.3 534.3 752 533.6 C755.7 532.9 759.8 532.3 764 532 C768.2 531.7 774.3 531.9 777 532 C779.7 532.1 777.4 532.6 780 532.8 C782.6 532.9 789.2 532.2 792.5 532.8 C795.8 533.3 797.3 534.9 800 536.2 C802.7 537.6 805.8 539.5 808.8 540.6 C811.7 541.7 814.6 542.4 817.5 543 C820.4 543.6 823.5 543.9 826.2 544.4 C829 544.9 831.5 545.3 833.8 546.2 C836 547.2 838.5 548.8 840 550 C841.5 551.2 842.3 552.3 843 553.8 C843.7 555.2 843.9 556.9 844.4 558.8 C844.9 560.6 845.3 563 846.2 565 C847.2 567 848.5 568.7 850 570.6 C851.5 572.5 853.1 574.5 855 576.2 C856.9 578 859.2 579.8 861.2 581.2 C863.3 582.7 865.2 583.8 867.5 585 C869.8 586.2 872.5 587.6 875 588.8 C877.5 589.9 880.2 591.1 882.5 591.9 C884.8 592.7 886.7 592.6 888.8 593.8 C890.8 594.9 892.7 597.2 895 598.8 C897.3 600.3 900 601.8 902.5 603 C905 604.2 907.5 605.3 910 606.2 C912.5 607.2 915 607.9 917.5 608.5 C920 609.1 922.4 609.6 925 610 C927.6 610.4 928.8 610.5 933 611 C937.2 611.5 945.5 613 950 613 C954.5 613 956.2 612 960 611.2 C963.8 610.5 969 609.2 972.5 608.8 C976 608.3 979 607.9 981.2 608.5 C983.5 609.1 983.5 611.2 986.2 612.5 C989 613.8 993.8 615.2 997.5 616.2 C1001.2 617.3 1005 618.1 1008.8 618.8 C1012.5 619.4 1016.9 619.6 1020 620 C1023.1 620.4 1025 620.2 1027.5 621.2 C1030 622.3 1032.1 625.4 1035 626.2 C1037.9 627.1 1041.9 626.9 1045 626.2 C1048.1 625.6 1051 624.2 1053.8 622.5 C1056.5 620.8 1059 618.2 1061.2 616.2 C1063.5 614.3 1065.4 611.8 1067.5 610.6 C1069.6 609.4 1072 608.7 1073.8 609 C1075.5 609.3 1076.9 610.7 1078 612.5 C1079.1 614.3 1079.9 617.5 1080.6 620 C1081.2 622.5 1081.2 625 1081.9 627.5 C1082.6 630 1083.4 633.1 1085 635 C1086.6 636.9 1088.8 638.4 1091.2 639 C1093.8 639.6 1096.9 638.5 1100 638.5 C1103.1 638.5 1107.1 638.4 1110 638.8 C1112.9 639.1 1115 639.8 1117.5 640.6 C1120 641.4 1122.4 642.9 1125 643.8 C1127.6 644.6 1131.7 645.3 1133 645.6" fill="none" stroke="#fff" stroke-opacity=".92" stroke-width=".8"/>

<path d="M35 468 C40.3 467.9 55.9 468.3 66.7 467.7 C77.5 467.1 93.2 465.2 100 464.4 C106.8 463.6 105 463.7 107.5 463 C110 462.3 112.5 461.5 115 460 C117.5 458.5 120 455.8 122.5 453.8 C125 451.8 127.5 449.5 130 448 C132.5 446.5 135 445.5 137.5 444.8 C140 444 142.9 443.5 145 443.5 C147.1 443.5 148.3 444.1 150 445 C151.7 445.9 153.1 447.9 155 449 C156.9 450.1 159.2 451 161.2 451.5 C163.3 452 165.6 452.5 167.5 452.2 C169.4 452 171.2 451 172.5 450 C173.8 449 174.4 447.9 175 446.2 C175.6 444.6 175.7 443 176 440 C176.3 437 175.5 430.8 176.7 428 C177.9 425.2 179.1 424.3 183 423 C186.9 421.7 195.5 420.9 200 420 C204.5 419.1 207.3 418.9 210 417.5 C212.7 416.1 214.9 414 216.2 411.9 C217.6 409.8 217.2 407 218 405 C218.8 403 219.5 401.3 221.2 400 C223 398.7 226.5 397.1 228.8 397.2 C231 397.4 232.7 399.5 235 400.6 C237.3 401.7 240 403.2 242.5 403.8 C245 404.3 247.5 404.3 250 404 C252.5 403.7 255 402.5 257.5 401.9 C260 401.3 262.1 400.7 265 400.6 C267.9 400.5 271.7 400.7 275 401.2 C278.3 401.8 281.2 402.9 285 403.8 C288.8 404.6 293.3 405.5 297.5 406.2 C301.7 407 305.8 407.2 310 408 C314.2 408.8 318.3 410.1 322.5 411.2 C326.7 412.4 331.2 413.9 335 415 C338.8 416.1 342.3 416.9 345 418 C347.7 419.1 349.8 420.3 351.2 421.9 C352.7 423.5 353.8 425.8 353.8 427.5 C353.8 429.2 352.3 430.9 351.2 431.9 C350.2 432.9 347.1 433.3 347.5 433.8 C347.9 434.2 351.7 435 353.8 434.8 C355.8 434.5 358.1 433.7 360 432.5 C361.9 431.3 362.9 428.6 365 427.5 C367.1 426.4 370.4 426.1 372.5 425.6 C374.6 425.1 375.9 425.3 377.5 424.4 C379.1 423.5 380.4 420.1 381.9 420 C383.4 419.9 384.5 422.5 386.2 423.8 C388 425 390.2 426.6 392.5 427.5 C394.8 428.4 397.9 428.9 400 429 C402.1 429.1 403.1 428.8 405 428 C406.9 427.2 409.2 425.1 411.2 424.4 C413.3 423.7 415.6 423.3 417.5 423.8 C419.4 424.2 420.9 425.5 422.5 426.9 C424.1 428.3 425.2 430.9 426.9 431.9 C428.6 432.9 430.7 432.5 432.5 433 C434.3 433.5 435.8 434.2 437.5 435 C439.2 435.8 442.1 437.2 442.5 438 C442.9 438.8 441.2 439.4 440 439.8 C438.8 440.1 436.5 440.2 435 440.3 C433.5 440.4 432.2 439.9 431 440.5 C429.8 441.1 428.6 442.9 428 444 C427.4 445.1 427.2 446 427.5 447 C427.8 448 428.8 448.9 430 450 C431.2 451.1 433.1 453 435 453.8 C436.9 454.5 439.2 454.6 441.2 454.4 C443.3 454.2 445 452.8 447.5 452.5 C450 452.2 453.3 452.1 456.2 452.5 C459.2 452.9 462.1 454 465 455 C467.9 456 470.8 458 473.8 458.8 C476.7 459.5 479.8 459.8 482.5 459.4 C485.2 459 487.7 457.1 490 456.2 C492.3 455.4 494.2 454.2 496.2 454 C498.3 453.8 500.2 454.4 502.5 455 C504.8 455.6 507.1 456.8 510 457.5 C512.9 458.2 516.7 458.7 520 459.4 C523.3 460.1 527.1 461 530 461.9 C532.9 462.8 535 463.6 537.5 465 C540 466.4 542.1 468.8 545 470.6 C547.9 472.4 551.7 474.8 555 476 C558.3 477.2 561.9 477.2 565 478 C568.1 478.8 570.8 480.4 573.8 480.6 C576.7 480.8 580.2 478.9 582.5 479.4 C584.8 479.9 586 482.2 587.5 483.8 C589 485.3 589.8 487.8 591.2 488.8 C592.7 489.7 594.8 489.6 596.2 489.4 C597.7 489.2 598.5 487.9 600 487.5 C601.5 487.1 603.8 486.5 605 486.9 C606.2 487.3 606.5 488.6 607.5 490 C608.5 491.4 610.2 493.3 611.2 495 C612.3 496.7 613.5 498.8 613.8 500 C614 501.2 613.3 502.6 612.5 502.5 C611.7 502.4 609.9 499.6 608.8 499.4 C607.6 499.2 606.6 500.1 605.6 501.2 C604.6 502.4 602.8 504.8 602.5 506.2 C602.2 507.7 602.7 509.1 603.8 510 C604.8 510.9 606.9 511.5 608.8 511.9 C610.6 512.3 613.4 512.2 615 512.5 C616.6 512.8 617.3 514.2 618.4 513.6 C619.5 513 620.7 509.9 621.8 508.6 C622.9 507.3 623.6 506 625 506 C626.4 506 628.5 507.1 630 508.6 C631.5 510.1 632.6 512.5 634 515 C635.4 517.5 636.7 520.5 638.5 523.6 C640.3 526.7 643.1 530.5 645 533.6 C646.9 536.7 648.7 538.6 650 542 C651.3 545.4 651.9 549.5 652.7 553.7 C653.5 557.9 653.8 562.3 655 567 C656.2 571.7 658.7 577.3 660 582 C661.3 586.7 661.6 592 662.7 595 C663.8 598 664.4 598 666.7 600 C669 602 672.8 605 676.7 606.7 C680.6 608.4 686.1 608.3 690 610 C693.9 611.7 696.7 613.7 700 616.7 C703.3 619.7 706.7 624.6 710 628 C713.3 631.4 716.2 634.9 720 637 C723.8 639.1 728 640.2 733 640.5 C738 640.8 744.4 639.4 750 638.5 C755.6 637.6 761.7 636.1 766.7 635 C771.7 633.9 774.5 632 780 632 C785.5 632 795 634.7 800 634.7 C805 634.7 806.7 633.9 810 632 C813.3 630.1 816.7 625.8 820 623.5 C823.3 621.2 826.2 619.1 830 618 C833.8 616.9 838.5 616.7 843 616.7 C847.5 616.7 852.8 617 856.7 618 C860.7 619 863.4 620.3 866.7 623 C870 625.7 873.4 630.2 876.7 634 C880 637.8 882.8 642.8 886.7 646 C890.6 649.2 894.5 651.7 900 653 C905.5 654.3 915.3 652.9 920 654 C924.7 655.1 925.8 657.5 928 659.7 C930.2 661.9 929.9 665 933 667 C936.1 669 941.1 670.7 946.7 672 C952.3 673.3 961.7 673.7 966.7 674.7 C971.7 675.7 974 675.8 976.7 678 C979.4 680.2 980.8 685 983 688 C985.2 691 986 694.7 990 696 C994 697.3 1000.6 695.8 1006.7 696 C1012.8 696.2 1021.2 696.8 1026.7 697 C1032.2 697.2 1034.5 697.7 1040 697 C1045.5 696.3 1054.5 694.5 1060 693 C1065.5 691.5 1068.5 689.8 1073 688 C1077.5 686.2 1083.2 683.3 1086.7 682 C1090.2 680.7 1091.7 680.5 1093.8 680.4 C1095.8 680.3 1097.4 680.5 1098.8 681.2 C1100.1 682 1101.1 683.1 1101.9 685 C1102.7 686.9 1103 689.6 1103.8 692.5 C1104.5 695.4 1105.3 699.2 1106.2 702.5 C1107.2 705.8 1108.5 709.6 1109.4 712.5 C1110.3 715.4 1111.4 717.7 1111.9 720 C1112.4 722.3 1112.5 724.4 1112.5 726.2 C1112.5 728.1 1112.3 729.2 1111.9 731 C1111.5 732.8 1110.7 734.7 1110 737 C1109.3 739.3 1108.1 742 1108 745 C1107.9 748 1108.7 752.3 1109.4 755 C1110.2 757.7 1110.9 759.9 1112.5 761.2 C1114.1 762.6 1116.7 762.5 1118.8 763 C1120.8 763.5 1123.5 763.6 1125 764.4 C1126.5 765.1 1127.3 765.9 1127.5 767.5 C1127.7 769.1 1127.1 771.5 1126.2 773.8 C1125.4 776 1124 778.8 1122.5 781.2 C1121 783.8 1119.2 786.1 1117.5 788.8 C1115.8 791.4 1113.8 794.4 1112.5 796.9 C1111.2 799.4 1110.2 801.1 1109.4 803.8 C1108.7 806.4 1108.1 809.9 1108 812.5 C1107.9 815.1 1107.6 817.4 1108.8 819.4 C1109.9 821.4 1112.7 822.9 1115 824.4 C1117.3 825.9 1120.2 827.9 1122.5 828.5 C1124.8 829.1 1127 828 1128.8 827.8 C1130.5 827.5 1132.3 827 1133 826.9 L1134 826 L1134 903 L32 903 L32 468 Z" fill="#e58c3d"/>
<path d="M35 468 C40.3 467.9 55.9 468.3 66.7 467.7 C77.5 467.1 93.2 465.2 100 464.4 C106.8 463.6 105 463.7 107.5 463 C110 462.3 112.5 461.5 115 460 C117.5 458.5 120 455.8 122.5 453.8 C125 451.8 127.5 449.5 130 448 C132.5 446.5 135 445.5 137.5 444.8 C140 444 142.9 443.5 145 443.5 C147.1 443.5 148.3 444.1 150 445 C151.7 445.9 153.1 447.9 155 449 C156.9 450.1 159.2 451 161.2 451.5 C163.3 452 165.6 452.5 167.5 452.2 C169.4 452 171.2 451 172.5 450 C173.8 449 174.4 447.9 175 446.2 C175.6 444.6 175.7 443 176 440 C176.3 437 175.5 430.8 176.7 428 C177.9 425.2 179.1 424.3 183 423 C186.9 421.7 195.5 420.9 200 420 C204.5 419.1 207.3 418.9 210 417.5 C212.7 416.1 214.9 414 216.2 411.9 C217.6 409.8 217.2 407 218 405 C218.8 403 219.5 401.3 221.2 400 C223 398.7 226.5 397.1 228.8 397.2 C231 397.4 232.7 399.5 235 400.6 C237.3 401.7 240 403.2 242.5 403.8 C245 404.3 247.5 404.3 250 404 C252.5 403.7 255 402.5 257.5 401.9 C260 401.3 262.1 400.7 265 400.6 C267.9 400.5 271.7 400.7 275 401.2 C278.3 401.8 281.2 402.9 285 403.8 C288.8 404.6 293.3 405.5 297.5 406.2 C301.7 407 305.8 407.2 310 408 C314.2 408.8 318.3 410.1 322.5 411.2 C326.7 412.4 331.2 413.9 335 415 C338.8 416.1 342.3 416.9 345 418 C347.7 419.1 349.8 420.3 351.2 421.9 C352.7 423.5 353.8 425.8 353.8 427.5 C353.8 429.2 352.3 430.9 351.2 431.9 C350.2 432.9 347.1 433.3 347.5 433.8 C347.9 434.2 351.7 435 353.8 434.8 C355.8 434.5 358.1 433.7 360 432.5 C361.9 431.3 362.9 428.6 365 427.5 C367.1 426.4 370.4 426.1 372.5 425.6 C374.6 425.1 375.9 425.3 377.5 424.4 C379.1 423.5 380.4 420.1 381.9 420 C383.4 419.9 384.5 422.5 386.2 423.8 C388 425 390.2 426.6 392.5 427.5 C394.8 428.4 397.9 428.9 400 429 C402.1 429.1 403.1 428.8 405 428 C406.9 427.2 409.2 425.1 411.2 424.4 C413.3 423.7 415.6 423.3 417.5 423.8 C419.4 424.2 420.9 425.5 422.5 426.9 C424.1 428.3 425.2 430.9 426.9 431.9 C428.6 432.9 430.7 432.5 432.5 433 C434.3 433.5 435.8 434.2 437.5 435 C439.2 435.8 442.1 437.2 442.5 438 C442.9 438.8 441.2 439.4 440 439.8 C438.8 440.1 436.5 440.2 435 440.3 C433.5 440.4 432.2 439.9 431 440.5 C429.8 441.1 428.6 442.9 428 444 C427.4 445.1 427.2 446 427.5 447 C427.8 448 428.8 448.9 430 450 C431.2 451.1 433.1 453 435 453.8 C436.9 454.5 439.2 454.6 441.2 454.4 C443.3 454.2 445 452.8 447.5 452.5 C450 452.2 453.3 452.1 456.2 452.5 C459.2 452.9 462.1 454 465 455 C467.9 456 470.8 458 473.8 458.8 C476.7 459.5 479.8 459.8 482.5 459.4 C485.2 459 487.7 457.1 490 456.2 C492.3 455.4 494.2 454.2 496.2 454 C498.3 453.8 500.2 454.4 502.5 455 C504.8 455.6 507.1 456.8 510 457.5 C512.9 458.2 516.7 458.7 520 459.4 C523.3 460.1 527.1 461 530 461.9 C532.9 462.8 535 463.6 537.5 465 C540 466.4 542.1 468.8 545 470.6 C547.9 472.4 551.7 474.8 555 476 C558.3 477.2 561.9 477.2 565 478 C568.1 478.8 570.8 480.4 573.8 480.6 C576.7 480.8 580.2 478.9 582.5 479.4 C584.8 479.9 586 482.2 587.5 483.8 C589 485.3 589.8 487.8 591.2 488.8 C592.7 489.7 594.8 489.6 596.2 489.4 C597.7 489.2 598.5 487.9 600 487.5 C601.5 487.1 603.8 486.5 605 486.9 C606.2 487.3 606.5 488.6 607.5 490 C608.5 491.4 610.2 493.3 611.2 495 C612.3 496.7 613.5 498.8 613.8 500 C614 501.2 613.3 502.6 612.5 502.5 C611.7 502.4 609.9 499.6 608.8 499.4 C607.6 499.2 606.6 500.1 605.6 501.2 C604.6 502.4 602.8 504.8 602.5 506.2 C602.2 507.7 602.7 509.1 603.8 510 C604.8 510.9 606.9 511.5 608.8 511.9 C610.6 512.3 613.4 512.2 615 512.5 C616.6 512.8 617.3 514.2 618.4 513.6 C619.5 513 620.7 509.9 621.8 508.6 C622.9 507.3 623.6 506 625 506 C626.4 506 628.5 507.1 630 508.6 C631.5 510.1 632.6 512.5 634 515 C635.4 517.5 636.7 520.5 638.5 523.6 C640.3 526.7 643.1 530.5 645 533.6 C646.9 536.7 648.7 538.6 650 542 C651.3 545.4 651.9 549.5 652.7 553.7 C653.5 557.9 653.8 562.3 655 567 C656.2 571.7 658.7 577.3 660 582 C661.3 586.7 661.6 592 662.7 595 C663.8 598 664.4 598 666.7 600 C669 602 672.8 605 676.7 606.7 C680.6 608.4 686.1 608.3 690 610 C693.9 611.7 696.7 613.7 700 616.7 C703.3 619.7 706.7 624.6 710 628 C713.3 631.4 716.2 634.9 720 637 C723.8 639.1 728 640.2 733 640.5 C738 640.8 744.4 639.4 750 638.5 C755.6 637.6 761.7 636.1 766.7 635 C771.7 633.9 774.5 632 780 632 C785.5 632 795 634.7 800 634.7 C805 634.7 806.7 633.9 810 632 C813.3 630.1 816.7 625.8 820 623.5 C823.3 621.2 826.2 619.1 830 618 C833.8 616.9 838.5 616.7 843 616.7 C847.5 616.7 852.8 617 856.7 618 C860.7 619 863.4 620.3 866.7 623 C870 625.7 873.4 630.2 876.7 634 C880 637.8 882.8 642.8 886.7 646 C890.6 649.2 894.5 651.7 900 653 C905.5 654.3 915.3 652.9 920 654 C924.7 655.1 925.8 657.5 928 659.7 C930.2 661.9 929.9 665 933 667 C936.1 669 941.1 670.7 946.7 672 C952.3 673.3 961.7 673.7 966.7 674.7 C971.7 675.7 974 675.8 976.7 678 C979.4 680.2 980.8 685 983 688 C985.2 691 986 694.7 990 696 C994 697.3 1000.6 695.8 1006.7 696 C1012.8 696.2 1021.2 696.8 1026.7 697 C1032.2 697.2 1034.5 697.7 1040 697 C1045.5 696.3 1054.5 694.5 1060 693 C1065.5 691.5 1068.5 689.8 1073 688 C1077.5 686.2 1083.2 683.3 1086.7 682 C1090.2 680.7 1091.7 680.5 1093.8 680.4 C1095.8 680.3 1097.4 680.5 1098.8 681.2 C1100.1 682 1101.1 683.1 1101.9 685 C1102.7 686.9 1103 689.6 1103.8 692.5 C1104.5 695.4 1105.3 699.2 1106.2 702.5 C1107.2 705.8 1108.5 709.6 1109.4 712.5 C1110.3 715.4 1111.4 717.7 1111.9 720 C1112.4 722.3 1112.5 724.4 1112.5 726.2 C1112.5 728.1 1112.3 729.2 1111.9 731 C1111.5 732.8 1110.7 734.7 1110 737 C1109.3 739.3 1108.1 742 1108 745 C1107.9 748 1108.7 752.3 1109.4 755 C1110.2 757.7 1110.9 759.9 1112.5 761.2 C1114.1 762.6 1116.7 762.5 1118.8 763 C1120.8 763.5 1123.5 763.6 1125 764.4 C1126.5 765.1 1127.3 765.9 1127.5 767.5 C1127.7 769.1 1127.1 771.5 1126.2 773.8 C1125.4 776 1124 778.8 1122.5 781.2 C1121 783.8 1119.2 786.1 1117.5 788.8 C1115.8 791.4 1113.8 794.4 1112.5 796.9 C1111.2 799.4 1110.2 801.1 1109.4 803.8 C1108.7 806.4 1108.1 809.9 1108 812.5 C1107.9 815.1 1107.6 817.4 1108.8 819.4 C1109.9 821.4 1112.7 822.9 1115 824.4 C1117.3 825.9 1120.2 827.9 1122.5 828.5 C1124.8 829.1 1127 828 1128.8 827.8 C1130.5 827.5 1132.3 827 1133 826.9" fill="none" stroke="#fff" stroke-opacity=".92" stroke-width=".8"/>

<path d="M35 553 C37.5 553.7 44.7 556 50 557 C55.3 558 60.6 557.2 66.7 559 C72.8 560.8 81.2 565.7 86.7 568 C92.2 570.3 96.1 572.4 100 573 C103.9 573.6 106.2 572.6 110 571.7 C113.8 570.8 118.5 568 123 567.7 C127.5 567.4 132.2 568.6 136.7 570 C141.2 571.4 145 574.7 150 576 C155 577.3 161.2 578.2 166.7 578 C172.2 577.8 177.4 576.9 183 575 C188.6 573.1 194.4 569.8 200 566.7 C205.6 563.7 211.7 560.7 216.7 556.7 C221.7 552.8 225.5 547 230 543 C234.5 539 240 534.7 243.8 532.5 C247.5 530.3 249.6 530.4 252.5 529.8 C255.4 529.1 258.3 528.8 261.2 528.8 C264.2 528.8 267.3 529.3 270 529.8 C272.7 530.2 275 530.5 277.5 531.2 C280 532 282.5 532.9 285 534 C287.5 535.1 290 536.9 292.5 538 C295 539.1 297.9 539.6 300 540.6 C302.1 541.6 303.3 542.6 305 543.8 C306.7 544.9 308.1 546.7 310 547.5 C311.9 548.3 314.4 547.8 316.2 548.5 C318.1 549.2 319.6 550.6 321.2 551.9 C322.9 553.2 324.8 555.2 326.2 556.2 C327.7 557.3 329.1 558.2 330 558 C330.9 557.8 331.4 556.1 331.9 555 C332.4 553.9 332.1 552.2 333 551.2 C333.9 550.2 335.9 549.1 337.5 549 C339.1 548.9 340.6 549.7 342.5 550.6 C344.4 551.5 346.7 553.2 348.8 554.4 C350.8 555.6 352.9 556.8 355 558 C357.1 559.2 359.6 560.7 361.2 561.9 C362.9 563.1 363.5 564.1 365 565 C366.5 565.9 368.3 567 370 567 C371.7 567 373.1 565.5 375 565 C376.9 564.5 379.4 564 381.2 563.8 C383.1 563.5 384.8 564.1 386.2 563.8 C387.7 563.4 388.5 562.4 390 561.9 C391.5 561.4 393.2 561.6 395 561 C396.8 560.4 399.4 559.2 401 558 C402.6 556.8 403.5 555.7 404.5 554 C405.5 552.3 405.4 550 407 548 C408.6 546 411.2 544.3 414 542 C416.8 539.7 421 536.5 424 534 C427 531.5 429.3 528.6 432 527 C434.7 525.4 437.2 525.1 440 524.4 C442.8 523.7 446.9 522.7 448.8 522.7 C450.6 522.7 450.4 523.5 451.2 524.4 C452.1 525.3 452.9 527 453.8 528 C454.6 529 456.1 529.6 456.2 530.5 C456.4 531.4 454.2 532.6 454.4 533.5 C454.6 534.4 456.4 536.1 457.5 536 C458.6 535.9 459.8 533.5 461 533 C462.2 532.5 463.9 532.9 465 533 C466.1 533.1 467.7 533.1 467.5 533.6 C467.3 534.1 465 535.5 464 536.2 C463 537 461.1 537.6 461.2 538.4 C461.4 539.2 463.5 540 465 541 C466.5 542 468.5 543.3 470 544.4 C471.5 545.5 472.9 546.5 474 547.5 C475.1 548.5 476.5 549.6 476.5 550.5 C476.5 551.4 474.6 552.2 473.8 553 C472.9 553.8 471.9 554 471.2 555 C470.6 556 470.3 557.5 470 558.8 C469.7 560 470 561.2 469.4 562.5 C468.8 563.8 467.4 565.3 466.2 566.2 C465.1 567.2 464.2 567.9 462.5 568 C460.8 568.1 458.3 567.5 456.2 566.9 C454.2 566.3 452.1 565.2 450 564.4 C447.9 563.6 445.6 562.1 443.8 562.2 C441.9 562.4 439.3 563 439 565 C438.7 567 441.2 571.5 442 574 C442.8 576.5 444.3 578 444 580 C443.7 582 442.3 584 440 586 C437.7 588 433.7 590 430 592 C426.3 594 422 596 418 598 C414 600 409.2 602 406 604 C402.8 606 400.6 608 399 610 C397.4 612 396.8 613.7 396.6 616 C396.4 618.3 396.8 622 398 624 C399.2 626 401 626.8 404 628 C407 629.2 412 630 416 631 C420 632 424 633.4 428 634 C432 634.6 436.3 634.5 440 634.4 C443.7 634.3 446.7 633.2 450 633.6 C453.3 634 456.7 635.8 460 637 C463.3 638.2 466.3 639.9 470 641 C473.7 642.1 478 643.3 482 643.6 C486 643.9 490 643.3 494 643 C498 642.7 501.7 641.9 506 642 C510.3 642.1 515.7 642.9 520 643.6 C524.3 644.3 528 645.5 532 646.4 C536 647.3 540 648.2 544 649 C548 649.8 552 650.3 556 651 C560 651.7 564 651.7 568 653 C572 654.3 575.2 657 580 659 C584.8 661 591.2 663.2 596.7 665 C602.2 666.8 607.5 667.9 613 669.7 C618.5 671.5 625 673.8 630 676 C635 678.2 638 681.2 643 683 C648 684.8 655.5 685.7 660 687 C664.5 688.3 667.2 688.9 670 691 C672.8 693.1 673.9 697.4 676.7 699.7 C679.5 702 682.8 703.6 686.7 705 C690.6 706.4 695.6 707.7 700 708 C704.4 708.3 709.2 707.3 713 707 C716.8 706.7 719.7 704.7 723 706 C726.3 707.3 729 711.9 733 714.7 C737 717.5 742.2 721.1 746.7 723 C751.2 724.9 755 725.2 760 726 C765 726.8 771.7 726.8 776.7 728 C781.7 729.2 786.5 731.5 790 733 C793.5 734.5 795.3 735.7 798 737 C800.7 738.3 804 740.2 806 741 C808 741.8 808.5 742.3 810 741.6 C811.5 740.9 813.3 739.3 815 737 C816.7 734.7 818.3 730.7 820 728 C821.7 725.3 823.3 722.7 825 721 C826.7 719.3 828.3 717.9 830 717.6 C831.7 717.3 833.3 717.8 835 719 C836.7 720.2 837.8 723.3 840 725 C842.2 726.7 846.2 727.2 848 729 C849.8 730.8 850.6 733.2 850.6 736 C850.6 738.8 848.1 743.2 848 746 C847.9 748.8 848.3 752.7 850 753 C851.7 753.3 854.7 749.8 858 748 C861.3 746.2 866.3 744 870 742.4 C873.7 740.8 876.7 739.4 880 738.4 C883.3 737.4 886.7 736.5 890 736.4 C893.3 736.3 897 736.7 900 737.6 C903 738.5 905.9 740.3 908 742 C910.1 743.7 912.4 746 912.4 748 C912.4 750 909.4 752.2 908 754 C906.6 755.8 904.3 757.2 904 759 C903.7 760.8 904.3 763.2 906 765 C907.7 766.8 911 768.3 914 770 C917 771.7 921 773.3 924 775 C927 776.7 929.7 778.8 932 780 C934.3 781.2 935.3 782.2 938 782.4 C940.7 782.6 944.7 781.9 948 781 C951.3 780.1 954.7 778.1 958 777 C961.3 775.9 965 774.7 968 774.4 C971 774.1 974.2 773.9 976 775 C977.8 776.1 978 778.5 979 781 C980 783.5 980.5 787.5 982 790 C983.5 792.5 985.7 795 988 796 C990.3 797 993.3 796.5 996 796 C998.7 795.5 1001.3 793.2 1004 793 C1006.7 792.8 1009.3 793.5 1012 795 C1014.7 796.5 1018.1 799.5 1020 802 C1021.9 804.5 1022.8 807 1023.6 810 C1024.4 813 1024.3 816.7 1025 820 C1025.7 823.3 1027.2 827.9 1028 830 C1028.8 832.1 1029 831.8 1030 832.5 C1031 833.2 1032.1 834.5 1033.8 834.4 C1035.4 834.3 1037.7 833 1040 831.9 C1042.3 830.8 1044.8 828.6 1047.5 827.5 C1050.2 826.4 1053.8 825.5 1056.2 825 C1058.8 824.5 1060.5 825.4 1062.5 824.8 C1064.5 824.1 1066.8 820.8 1068 821.2 C1069.2 821.7 1069.3 825.2 1069.4 827.5 C1069.5 829.8 1069.1 832.1 1068.8 835 C1068.4 837.9 1068.1 840.7 1067.5 845 C1066.9 849.3 1065.8 855.8 1065 861 C1064.2 866.2 1063.2 873.2 1063 876 C1062.8 878.8 1052.3 877.7 1064 878 C1075.7 878.3 1121.5 878 1133 878 L1134 878 L1134 903 L32 903 L32 553 Z" fill="#eba44a"/>
<path d="M35 553 C37.5 553.7 44.7 556 50 557 C55.3 558 60.6 557.2 66.7 559 C72.8 560.8 81.2 565.7 86.7 568 C92.2 570.3 96.1 572.4 100 573 C103.9 573.6 106.2 572.6 110 571.7 C113.8 570.8 118.5 568 123 567.7 C127.5 567.4 132.2 568.6 136.7 570 C141.2 571.4 145 574.7 150 576 C155 577.3 161.2 578.2 166.7 578 C172.2 577.8 177.4 576.9 183 575 C188.6 573.1 194.4 569.8 200 566.7 C205.6 563.7 211.7 560.7 216.7 556.7 C221.7 552.8 225.5 547 230 543 C234.5 539 240 534.7 243.8 532.5 C247.5 530.3 249.6 530.4 252.5 529.8 C255.4 529.1 258.3 528.8 261.2 528.8 C264.2 528.8 267.3 529.3 270 529.8 C272.7 530.2 275 530.5 277.5 531.2 C280 532 282.5 532.9 285 534 C287.5 535.1 290 536.9 292.5 538 C295 539.1 297.9 539.6 300 540.6 C302.1 541.6 303.3 542.6 305 543.8 C306.7 544.9 308.1 546.7 310 547.5 C311.9 548.3 314.4 547.8 316.2 548.5 C318.1 549.2 319.6 550.6 321.2 551.9 C322.9 553.2 324.8 555.2 326.2 556.2 C327.7 557.3 329.1 558.2 330 558 C330.9 557.8 331.4 556.1 331.9 555 C332.4 553.9 332.1 552.2 333 551.2 C333.9 550.2 335.9 549.1 337.5 549 C339.1 548.9 340.6 549.7 342.5 550.6 C344.4 551.5 346.7 553.2 348.8 554.4 C350.8 555.6 352.9 556.8 355 558 C357.1 559.2 359.6 560.7 361.2 561.9 C362.9 563.1 363.5 564.1 365 565 C366.5 565.9 368.3 567 370 567 C371.7 567 373.1 565.5 375 565 C376.9 564.5 379.4 564 381.2 563.8 C383.1 563.5 384.8 564.1 386.2 563.8 C387.7 563.4 388.5 562.4 390 561.9 C391.5 561.4 393.2 561.6 395 561 C396.8 560.4 399.4 559.2 401 558 C402.6 556.8 403.5 555.7 404.5 554 C405.5 552.3 405.4 550 407 548 C408.6 546 411.2 544.3 414 542 C416.8 539.7 421 536.5 424 534 C427 531.5 429.3 528.6 432 527 C434.7 525.4 437.2 525.1 440 524.4 C442.8 523.7 446.9 522.7 448.8 522.7 C450.6 522.7 450.4 523.5 451.2 524.4 C452.1 525.3 452.9 527 453.8 528 C454.6 529 456.1 529.6 456.2 530.5 C456.4 531.4 454.2 532.6 454.4 533.5 C454.6 534.4 456.4 536.1 457.5 536 C458.6 535.9 459.8 533.5 461 533 C462.2 532.5 463.9 532.9 465 533 C466.1 533.1 467.7 533.1 467.5 533.6 C467.3 534.1 465 535.5 464 536.2 C463 537 461.1 537.6 461.2 538.4 C461.4 539.2 463.5 540 465 541 C466.5 542 468.5 543.3 470 544.4 C471.5 545.5 472.9 546.5 474 547.5 C475.1 548.5 476.5 549.6 476.5 550.5 C476.5 551.4 474.6 552.2 473.8 553 C472.9 553.8 471.9 554 471.2 555 C470.6 556 470.3 557.5 470 558.8 C469.7 560 470 561.2 469.4 562.5 C468.8 563.8 467.4 565.3 466.2 566.2 C465.1 567.2 464.2 567.9 462.5 568 C460.8 568.1 458.3 567.5 456.2 566.9 C454.2 566.3 452.1 565.2 450 564.4 C447.9 563.6 445.6 562.1 443.8 562.2 C441.9 562.4 439.3 563 439 565 C438.7 567 441.2 571.5 442 574 C442.8 576.5 444.3 578 444 580 C443.7 582 442.3 584 440 586 C437.7 588 433.7 590 430 592 C426.3 594 422 596 418 598 C414 600 409.2 602 406 604 C402.8 606 400.6 608 399 610 C397.4 612 396.8 613.7 396.6 616 C396.4 618.3 396.8 622 398 624 C399.2 626 401 626.8 404 628 C407 629.2 412 630 416 631 C420 632 424 633.4 428 634 C432 634.6 436.3 634.5 440 634.4 C443.7 634.3 446.7 633.2 450 633.6 C453.3 634 456.7 635.8 460 637 C463.3 638.2 466.3 639.9 470 641 C473.7 642.1 478 643.3 482 643.6 C486 643.9 490 643.3 494 643 C498 642.7 501.7 641.9 506 642 C510.3 642.1 515.7 642.9 520 643.6 C524.3 644.3 528 645.5 532 646.4 C536 647.3 540 648.2 544 649 C548 649.8 552 650.3 556 651 C560 651.7 564 651.7 568 653 C572 654.3 575.2 657 580 659 C584.8 661 591.2 663.2 596.7 665 C602.2 666.8 607.5 667.9 613 669.7 C618.5 671.5 625 673.8 630 676 C635 678.2 638 681.2 643 683 C648 684.8 655.5 685.7 660 687 C664.5 688.3 667.2 688.9 670 691 C672.8 693.1 673.9 697.4 676.7 699.7 C679.5 702 682.8 703.6 686.7 705 C690.6 706.4 695.6 707.7 700 708 C704.4 708.3 709.2 707.3 713 707 C716.8 706.7 719.7 704.7 723 706 C726.3 707.3 729 711.9 733 714.7 C737 717.5 742.2 721.1 746.7 723 C751.2 724.9 755 725.2 760 726 C765 726.8 771.7 726.8 776.7 728 C781.7 729.2 786.5 731.5 790 733 C793.5 734.5 795.3 735.7 798 737 C800.7 738.3 804 740.2 806 741 C808 741.8 808.5 742.3 810 741.6 C811.5 740.9 813.3 739.3 815 737 C816.7 734.7 818.3 730.7 820 728 C821.7 725.3 823.3 722.7 825 721 C826.7 719.3 828.3 717.9 830 717.6 C831.7 717.3 833.3 717.8 835 719 C836.7 720.2 837.8 723.3 840 725 C842.2 726.7 846.2 727.2 848 729 C849.8 730.8 850.6 733.2 850.6 736 C850.6 738.8 848.1 743.2 848 746 C847.9 748.8 848.3 752.7 850 753 C851.7 753.3 854.7 749.8 858 748 C861.3 746.2 866.3 744 870 742.4 C873.7 740.8 876.7 739.4 880 738.4 C883.3 737.4 886.7 736.5 890 736.4 C893.3 736.3 897 736.7 900 737.6 C903 738.5 905.9 740.3 908 742 C910.1 743.7 912.4 746 912.4 748 C912.4 750 909.4 752.2 908 754 C906.6 755.8 904.3 757.2 904 759 C903.7 760.8 904.3 763.2 906 765 C907.7 766.8 911 768.3 914 770 C917 771.7 921 773.3 924 775 C927 776.7 929.7 778.8 932 780 C934.3 781.2 935.3 782.2 938 782.4 C940.7 782.6 944.7 781.9 948 781 C951.3 780.1 954.7 778.1 958 777 C961.3 775.9 965 774.7 968 774.4 C971 774.1 974.2 773.9 976 775 C977.8 776.1 978 778.5 979 781 C980 783.5 980.5 787.5 982 790 C983.5 792.5 985.7 795 988 796 C990.3 797 993.3 796.5 996 796 C998.7 795.5 1001.3 793.2 1004 793 C1006.7 792.8 1009.3 793.5 1012 795 C1014.7 796.5 1018.1 799.5 1020 802 C1021.9 804.5 1022.8 807 1023.6 810 C1024.4 813 1024.3 816.7 1025 820 C1025.7 823.3 1027.2 827.9 1028 830 C1028.8 832.1 1029 831.8 1030 832.5 C1031 833.2 1032.1 834.5 1033.8 834.4 C1035.4 834.3 1037.7 833 1040 831.9 C1042.3 830.8 1044.8 828.6 1047.5 827.5 C1050.2 826.4 1053.8 825.5 1056.2 825 C1058.8 824.5 1060.5 825.4 1062.5 824.8 C1064.5 824.1 1066.8 820.8 1068 821.2 C1069.2 821.7 1069.3 825.2 1069.4 827.5 C1069.5 829.8 1069.1 832.1 1068.8 835 C1068.4 837.9 1068.1 840.7 1067.5 845 C1066.9 849.3 1065.8 855.8 1065 861 C1064.2 866.2 1063.2 873.2 1063 876 C1062.8 878.8 1052.3 877.7 1064 878 C1075.7 878.3 1121.5 878 1133 878" fill="none" stroke="#fff" stroke-opacity=".92" stroke-width=".8"/>

<path d="M35 677 C36.3 677.2 39.4 676.5 43 678 C46.6 679.5 52.2 684 56.7 686 C61.2 688 65.6 689.3 70 690 C74.4 690.7 79.2 690.5 83 690 C86.8 689.5 89 687.7 93 687 C97 686.3 102.8 686 106.7 686 C110.7 686 112.3 687.5 116.7 687 C121.1 686.5 128 684.2 133 683 C138 681.8 142.8 679.7 146.7 679.7 C150.6 679.7 153.4 680.8 156.7 683 C160 685.2 162.8 690 166.7 693 C170.6 696 175.6 698.7 180 700.7 C184.4 702.7 188 703.5 193 705 C198 706.5 203.8 708.9 210 709.7 C216.2 710.5 224.5 709.5 230 709.7 C235.5 709.9 239.2 709.8 243 711 C246.8 712.2 249.7 716.4 253 717 C256.3 717.6 259.1 715.9 263 714.7 C266.9 713.5 271.7 711 276.7 709.7 C281.7 708.4 286.9 708.3 293 707 C299.1 705.7 307.4 702.7 313 702 C318.6 701.3 321.1 702 326.7 703 C332.3 704 340 706.7 346.7 708 C353.4 709.3 361.1 709.9 366.7 710.7 C372.2 711.5 374.4 711 380 713 C385.6 715 394.5 720.4 400 723 C405.5 725.6 407.5 727.6 413 728.7 C418.5 729.8 426.8 729.4 433 729.7 C439.2 730 444.4 730.2 450 730.7 C455.6 731.2 461.2 731.8 466.7 733 C472.2 734.2 477.4 735.8 483 738 C488.6 740.2 494.4 743.2 500 746 C505.6 748.8 511.2 751.6 516.7 754.7 C522.2 757.8 527.5 761.4 533 764.7 C538.5 768 544.4 772 550 774.7 C555.6 777.4 561.2 778.7 566.7 781 C572.2 783.3 578 786.6 583 788.7 C588 790.8 591.7 792.7 596.7 793.7 C601.7 794.7 607.5 794.5 613 794.7 C618.5 794.9 625.5 794.6 630 795 C634.5 795.4 636.2 796.8 640 797 C643.8 797.2 647.5 796 653 796 C658.5 796 667.4 796.2 673 797 C678.6 797.8 682.8 798.9 686.7 800.7 C690.7 802.5 694.5 806.3 696.7 808 C698.9 809.7 698.8 809.7 700 811 C701.2 812.3 702.3 814.2 703.8 816 C705.2 817.8 706.9 820.1 708.8 821.6 C710.6 823.1 712.3 823.9 715 824.8 C717.7 825.6 722.1 826 725 826.6 C727.9 827.2 730.4 828 732.5 828.5 C734.6 829 735.6 829.6 737.5 829.5 C739.4 829.4 741.9 828.5 743.8 827.9 C745.6 827.3 747.3 825.8 748.8 825.8 C750.2 825.7 751.1 827.5 752.5 827.5 C753.9 827.5 755.4 826.4 756.9 825.8 C758.4 825.1 759.7 823.7 761.2 823.5 C762.8 823.3 764.4 824.2 766.2 824.5 C768.1 824.8 770.2 825 772.5 825.4 C774.8 825.8 777.5 826 780 826.6 C782.5 827.2 785 828 787.5 829 C790 830 793.2 831.9 795 832.9 C796.8 833.9 795.8 834.3 798 835 C800.2 835.7 804.7 836.9 808 837 C811.3 837.1 815 836 818 835.6 C821 835.2 823.3 834.2 826 834.4 C828.7 834.6 831.7 835.7 834 837 C836.3 838.3 838.5 839.8 840 842 C841.5 844.2 842.2 847 843 850 C843.8 853 844.2 857 845 860 C845.8 863 846.8 866.1 848 868 C849.2 869.9 849.7 871.4 852 871.6 C854.3 871.8 858.3 869.9 862 869 C865.7 868.1 870.3 866.6 874 866.4 C877.7 866.2 880.7 867.2 884 868 C887.3 868.8 890.3 870.1 894 871 C897.7 871.9 903.3 872.8 906 873.6 C908.7 874.4 908.5 874.8 910 876 C911.5 877.2 910.8 878.3 915 881 C919.2 883.7 928.7 888.7 935 892 C941.3 895.3 950 899.5 953 901 L953 903 L32 903 L32 677 Z" fill="#f3cf7f"/>
<path d="M35 677 C36.3 677.2 39.4 676.5 43 678 C46.6 679.5 52.2 684 56.7 686 C61.2 688 65.6 689.3 70 690 C74.4 690.7 79.2 690.5 83 690 C86.8 689.5 89 687.7 93 687 C97 686.3 102.8 686 106.7 686 C110.7 686 112.3 687.5 116.7 687 C121.1 686.5 128 684.2 133 683 C138 681.8 142.8 679.7 146.7 679.7 C150.6 679.7 153.4 680.8 156.7 683 C160 685.2 162.8 690 166.7 693 C170.6 696 175.6 698.7 180 700.7 C184.4 702.7 188 703.5 193 705 C198 706.5 203.8 708.9 210 709.7 C216.2 710.5 224.5 709.5 230 709.7 C235.5 709.9 239.2 709.8 243 711 C246.8 712.2 249.7 716.4 253 717 C256.3 717.6 259.1 715.9 263 714.7 C266.9 713.5 271.7 711 276.7 709.7 C281.7 708.4 286.9 708.3 293 707 C299.1 705.7 307.4 702.7 313 702 C318.6 701.3 321.1 702 326.7 703 C332.3 704 340 706.7 346.7 708 C353.4 709.3 361.1 709.9 366.7 710.7 C372.2 711.5 374.4 711 380 713 C385.6 715 394.5 720.4 400 723 C405.5 725.6 407.5 727.6 413 728.7 C418.5 729.8 426.8 729.4 433 729.7 C439.2 730 444.4 730.2 450 730.7 C455.6 731.2 461.2 731.8 466.7 733 C472.2 734.2 477.4 735.8 483 738 C488.6 740.2 494.4 743.2 500 746 C505.6 748.8 511.2 751.6 516.7 754.7 C522.2 757.8 527.5 761.4 533 764.7 C538.5 768 544.4 772 550 774.7 C555.6 777.4 561.2 778.7 566.7 781 C572.2 783.3 578 786.6 583 788.7 C588 790.8 591.7 792.7 596.7 793.7 C601.7 794.7 607.5 794.5 613 794.7 C618.5 794.9 625.5 794.6 630 795 C634.5 795.4 636.2 796.8 640 797 C643.8 797.2 647.5 796 653 796 C658.5 796 667.4 796.2 673 797 C678.6 797.8 682.8 798.9 686.7 800.7 C690.7 802.5 694.5 806.3 696.7 808 C698.9 809.7 698.8 809.7 700 811 C701.2 812.3 702.3 814.2 703.8 816 C705.2 817.8 706.9 820.1 708.8 821.6 C710.6 823.1 712.3 823.9 715 824.8 C717.7 825.6 722.1 826 725 826.6 C727.9 827.2 730.4 828 732.5 828.5 C734.6 829 735.6 829.6 737.5 829.5 C739.4 829.4 741.9 828.5 743.8 827.9 C745.6 827.3 747.3 825.8 748.8 825.8 C750.2 825.7 751.1 827.5 752.5 827.5 C753.9 827.5 755.4 826.4 756.9 825.8 C758.4 825.1 759.7 823.7 761.2 823.5 C762.8 823.3 764.4 824.2 766.2 824.5 C768.1 824.8 770.2 825 772.5 825.4 C774.8 825.8 777.5 826 780 826.6 C782.5 827.2 785 828 787.5 829 C790 830 793.2 831.9 795 832.9 C796.8 833.9 795.8 834.3 798 835 C800.2 835.7 804.7 836.9 808 837 C811.3 837.1 815 836 818 835.6 C821 835.2 823.3 834.2 826 834.4 C828.7 834.6 831.7 835.7 834 837 C836.3 838.3 838.5 839.8 840 842 C841.5 844.2 842.2 847 843 850 C843.8 853 844.2 857 845 860 C845.8 863 846.8 866.1 848 868 C849.2 869.9 849.7 871.4 852 871.6 C854.3 871.8 858.3 869.9 862 869 C865.7 868.1 870.3 866.6 874 866.4 C877.7 866.2 880.7 867.2 884 868 C887.3 868.8 890.3 870.1 894 871 C897.7 871.9 903.3 872.8 906 873.6 C908.7 874.4 908.5 874.8 910 876 C911.5 877.2 910.8 878.3 915 881 C919.2 883.7 928.7 888.7 935 892 C941.3 895.3 950 899.5 953 901" fill="none" stroke="#fff" stroke-opacity=".92" stroke-width=".8"/>

<path d="M34.8 814.4 C37.3 814 45.4 813.3 50 811.9 C54.6 810.5 58.8 808.6 62.5 806.2 C66.2 803.9 69.2 800.2 72.5 797.5 C75.8 794.8 79.2 791.9 82.5 790 C85.8 788.1 88.5 787.2 92.5 786.2 C96.5 785.2 102.9 785 106.2 784 C109.6 783 110.2 781 112.5 780 C114.8 779 116.9 778.2 120 777.8 C123.1 777.3 127.7 777.3 131.2 777.5 C134.8 777.7 138.1 778.1 141.2 778.8 C144.4 779.4 146.9 780.5 150 781.2 C153.1 782 156.2 783.4 160 783 C163.8 782.6 168.6 779.4 173 778.7 C177.4 778 182.2 778 186.7 779 C191.2 780 195.6 782.9 200 784.7 C204.4 786.5 207.5 789 213 790 C218.5 791 226.3 790.5 233 791 C239.7 791.5 246.3 792.4 253 793 C259.7 793.6 268.5 794.4 273 794.7 C277.5 795 276.2 794.3 280 795 C283.8 795.7 290.7 797.3 296 799 C301.3 800.7 306.3 803.3 312 805 C317.7 806.7 324 807.4 330 809 C336 810.6 342.3 813.3 348 814.4 C353.7 815.5 359.3 815.2 364 815.4 C368.7 815.6 371.7 815.6 376 815.4 C380.3 815.2 386.7 815 390 814.4 C393.3 813.8 394 813.4 396 812 C398 810.6 399.7 807.8 402 806 C404.3 804.2 407 801.8 410 801 C413 800.2 416.3 800.4 420 801 C423.7 801.6 428.7 803.7 432 804.4 C435.3 805.1 437 804.4 440 805 C443 805.6 446.7 807.2 450 808 C453.3 808.8 456.3 809.3 460 810 C463.7 810.7 468 811.7 472 812.4 C476 813.1 479.7 813.7 484 814.4 C488.3 815.1 494.3 815.5 498 816.4 C501.7 817.3 503.3 818.4 506 820 C508.7 821.6 511.2 823.5 514 826 C516.8 828.5 520.2 832.2 523 834.7 C525.8 837.2 528.2 838.8 531 841 C533.8 843.2 537.5 846.2 540 847.9 C542.5 849.6 544.4 849.5 546.2 851 C548.1 852.5 549.2 854.8 551.2 856.6 C553.3 858.4 556 860 558.8 861.6 C561.5 863.2 564.4 864.7 567.5 866 C570.6 867.3 574.6 868 577.5 869.5 C580.4 871 582.5 873 585 874.8 C587.5 876.5 590.2 878.2 592.5 879.8 C594.8 881.3 596.7 882.9 598.8 884 C600.8 885.1 602.5 886.2 605 886.6 C607.5 887 611.2 886.8 613.8 886.6 C616.2 886.4 617.7 885.5 620 885.4 C622.3 885.3 624.6 885.8 627.5 886 C630.4 886.2 634.4 886.4 637.5 886.6 C640.6 886.8 643.8 886.9 646.2 887.2 C648.8 887.6 650.4 888.1 652.5 889 C654.6 889.9 656.9 891.5 658.8 892.9 C660.6 894.3 662.5 895.9 663.8 897.2 C665 898.6 665.8 900.4 666.2 901 L666.2 903 L32 903 L32 814.4 Z" fill="#ffec83"/>
<path d="M34.8 814.4 C37.3 814 45.4 813.3 50 811.9 C54.6 810.5 58.8 808.6 62.5 806.2 C66.2 803.9 69.2 800.2 72.5 797.5 C75.8 794.8 79.2 791.9 82.5 790 C85.8 788.1 88.5 787.2 92.5 786.2 C96.5 785.2 102.9 785 106.2 784 C109.6 783 110.2 781 112.5 780 C114.8 779 116.9 778.2 120 777.8 C123.1 777.3 127.7 777.3 131.2 777.5 C134.8 777.7 138.1 778.1 141.2 778.8 C144.4 779.4 146.9 780.5 150 781.2 C153.1 782 156.2 783.4 160 783 C163.8 782.6 168.6 779.4 173 778.7 C177.4 778 182.2 778 186.7 779 C191.2 780 195.6 782.9 200 784.7 C204.4 786.5 207.5 789 213 790 C218.5 791 226.3 790.5 233 791 C239.7 791.5 246.3 792.4 253 793 C259.7 793.6 268.5 794.4 273 794.7 C277.5 795 276.2 794.3 280 795 C283.8 795.7 290.7 797.3 296 799 C301.3 800.7 306.3 803.3 312 805 C317.7 806.7 324 807.4 330 809 C336 810.6 342.3 813.3 348 814.4 C353.7 815.5 359.3 815.2 364 815.4 C368.7 815.6 371.7 815.6 376 815.4 C380.3 815.2 386.7 815 390 814.4 C393.3 813.8 394 813.4 396 812 C398 810.6 399.7 807.8 402 806 C404.3 804.2 407 801.8 410 801 C413 800.2 416.3 800.4 420 801 C423.7 801.6 428.7 803.7 432 804.4 C435.3 805.1 437 804.4 440 805 C443 805.6 446.7 807.2 450 808 C453.3 808.8 456.3 809.3 460 810 C463.7 810.7 468 811.7 472 812.4 C476 813.1 479.7 813.7 484 814.4 C488.3 815.1 494.3 815.5 498 816.4 C501.7 817.3 503.3 818.4 506 820 C508.7 821.6 511.2 823.5 514 826 C516.8 828.5 520.2 832.2 523 834.7 C525.8 837.2 528.2 838.8 531 841 C533.8 843.2 537.5 846.2 540 847.9 C542.5 849.6 544.4 849.5 546.2 851 C548.1 852.5 549.2 854.8 551.2 856.6 C553.3 858.4 556 860 558.8 861.6 C561.5 863.2 564.4 864.7 567.5 866 C570.6 867.3 574.6 868 577.5 869.5 C580.4 871 582.5 873 585 874.8 C587.5 876.5 590.2 878.2 592.5 879.8 C594.8 881.3 596.7 882.9 598.8 884 C600.8 885.1 602.5 886.2 605 886.6 C607.5 887 611.2 886.8 613.8 886.6 C616.2 886.4 617.7 885.5 620 885.4 C622.3 885.3 624.6 885.8 627.5 886 C630.4 886.2 634.4 886.4 637.5 886.6 C640.6 886.8 643.8 886.9 646.2 887.2 C648.8 887.6 650.4 888.1 652.5 889 C654.6 889.9 656.9 891.5 658.8 892.9 C660.6 894.3 662.5 895.9 663.8 897.2 C665 898.6 665.8 900.4 666.2 901" fill="none" stroke="#fff" stroke-opacity=".92" stroke-width=".8"/>

<path d="M181.7 901 C183.6 899.3 188.8 894.3 193 891 C197.2 887.7 202.2 883.8 206.7 881 C211.2 878.2 215 875.7 220 874 C225 872.3 231.2 871.5 236.7 871 C242.2 870.5 246.9 871 253 871 C259.1 871 267.4 871.8 273 871 C278.6 870.2 282.9 867 286.7 866 C290.5 865 293.8 864.8 296 865 C298.2 865.2 296.7 866.6 300 867 C303.3 867.4 311.3 867.1 316 867.6 C320.7 868.1 324 868.9 328 870 C332 871.1 335.3 873.1 340 874 C344.7 874.9 351.3 875.1 356 875.6 C360.7 876.1 363.3 876.9 368 877 C372.7 877.1 379.3 876.2 384 876.4 C388.7 876.6 391.7 877.7 396 878.4 C400.3 879.1 405.3 880.1 410 880.4 C414.7 880.7 419 880.6 424 880.4 C429 880.2 435.3 879.4 440 879 C444.7 878.6 448.7 878.2 452 878 C455.3 877.8 457.3 877.7 460 878 C462.7 878.3 465.3 878.8 468 879.6 C470.7 880.4 473.3 881.3 476 883 C478.7 884.7 481.3 887.8 484 890 C486.7 892.2 489.3 894.4 492 896 C494.7 897.6 496.7 898.5 500 899.4 C503.3 900.3 510 901.1 512 901.4 L512 903 L181.7 903 Z" fill="#fdea00"/>
<path d="M181.7 901 C183.6 899.3 188.8 894.3 193 891 C197.2 887.7 202.2 883.8 206.7 881 C211.2 878.2 215 875.7 220 874 C225 872.3 231.2 871.5 236.7 871 C242.2 870.5 246.9 871 253 871 C259.1 871 267.4 871.8 273 871 C278.6 870.2 282.9 867 286.7 866 C290.5 865 293.8 864.8 296 865 C298.2 865.2 296.7 866.6 300 867 C303.3 867.4 311.3 867.1 316 867.6 C320.7 868.1 324 868.9 328 870 C332 871.1 335.3 873.1 340 874 C344.7 874.9 351.3 875.1 356 875.6 C360.7 876.1 363.3 876.9 368 877 C372.7 877.1 379.3 876.2 384 876.4 C388.7 876.6 391.7 877.7 396 878.4 C400.3 879.1 405.3 880.1 410 880.4 C414.7 880.7 419 880.6 424 880.4 C429 880.2 435.3 879.4 440 879 C444.7 878.6 448.7 878.2 452 878 C455.3 877.8 457.3 877.7 460 878 C462.7 878.3 465.3 878.8 468 879.6 C470.7 880.4 473.3 881.3 476 883 C478.7 884.7 481.3 887.8 484 890 C486.7 892.2 489.3 894.4 492 896 C494.7 897.6 496.7 898.5 500 899.4 C503.3 900.3 510 901.1 512 901.4" fill="none" stroke="#fff" stroke-opacity=".92" stroke-width=".8"/>

<path d="M611 487.7 C612.1 487.7 615.5 488 618.4 489 C621.3 490 625.4 491.8 628.5 493.5 C631.6 495.2 634.6 497.3 636.8 499.4 C639 501.5 640.4 503.8 641.8 506 C643.2 508.2 644.6 510.9 645 512.7 C645.4 514.5 644.8 516.6 644 517 C643.2 517.4 641.5 516.2 640 515 C638.5 513.8 636.7 511.9 635 510 C633.3 508.1 631.9 505.3 630 503.5 C628.1 501.7 625.6 501 623.4 499.4 C621.2 497.8 618.8 495.7 616.8 494 C614.8 492.3 612.7 490.1 611.7 489 C610.7 487.9 609.9 487.7 611 487.7Z" fill="#ef053d" stroke="#fff" stroke-opacity=".92" stroke-width=".8"/>
<path d="M538.8 476.9 C539.7 476.9 541.1 477.2 541.9 478.8 C542.7 480.3 542.6 483.5 543.8 486.2 C544.9 489 546.9 492.7 548.8 495 C550.6 497.3 552.5 498.5 555 500 C557.5 501.5 561.8 503.8 563.8 503.8 C565.7 503.8 566.2 501.5 566.9 500 C567.6 498.5 568.2 496.7 568 495 C567.8 493.3 565.7 491.5 565.6 490 C565.5 488.5 566.1 486.5 567.5 486.2 C568.9 486 571.7 488.1 573.8 488.8 C575.8 489.4 577.9 489.5 580 490 C582.1 490.5 584.2 490.8 586.2 491.9 C588.3 493 590.7 495.2 592.5 496.9 C594.3 498.6 596.5 500.1 596.9 501.9 C597.3 503.7 596.4 505.7 595 507.5 C593.6 509.3 590.8 511.9 588.8 512.5 C586.7 513.1 584.4 511.9 582.5 511.2 C580.6 510.6 579.6 509.1 577.5 508.8 C575.4 508.4 572 509 570 509.4 C568 509.8 566.3 510.2 565.6 511.2 C564.9 512.3 564.9 514.5 565.6 515.6 C566.3 516.7 567.6 517.1 570 518 C572.4 518.9 576.9 519.9 580 521.2 C583.1 522.6 586 524.6 588.8 526.2 C591.5 527.9 594.2 529.6 596.2 531.2 C598.3 532.9 600.5 534.4 601.2 536.2 C602 538.1 601.4 541.2 600.6 542.5 C599.8 543.8 598 544.2 596.2 543.8 C594.5 543.3 592.3 541.2 590 540 C587.7 538.8 585 537.5 582.5 536.2 C580 535 577.5 533.6 575 532.5 C572.5 531.4 570 530.2 567.5 529.4 C565 528.6 562.7 528 560 527.5 C557.3 527 554 526.5 551.2 526.2 C548.5 526 546 525.6 543.8 526.2 C541.5 526.9 539.4 528.8 537.5 530 C535.6 531.2 534.6 533 532.5 533.8 C530.4 534.5 527.1 534.2 525 534.4 C522.9 534.6 521.2 534.3 520 535 C518.8 535.7 517.5 537.5 517.5 538.8 C517.5 540 518.5 541.8 520 542.5 C521.5 543.2 524.6 542.4 526.2 543 C527.9 543.6 529.2 544.9 530 546.2 C530.8 547.6 530.4 549.4 531.2 551.2 C532.1 553.1 534 555.7 535 557.5 C536 559.3 537.7 561.2 537.5 561.9 C537.3 562.6 535.2 562.6 533.8 561.9 C532.3 561.2 530.4 558.8 528.8 557.5 C527.1 556.2 525.6 554.9 523.8 554.4 C521.9 553.9 520 554.3 517.5 554.4 C515 554.5 511.5 555.3 508.8 555 C506 554.7 503.5 553.8 501.2 552.5 C499 551.2 497.1 549 495 547.5 C492.9 546 491.5 545.2 488.8 543.8 C486 542.3 479.2 539.9 478.8 538.8 C478.3 537.6 483.5 537 486.2 536.9 C489 536.8 492.5 538.5 495 538 C497.5 537.5 499 534.6 501.2 533.8 C503.5 532.9 507.1 534 508.8 533 C510.4 532 510.5 529.7 511.2 527.5 C512 525.3 513 522.3 513 520 C513 517.7 512.3 515.8 511.2 513.8 C510.2 511.8 507.1 509.4 506.9 508 C506.7 506.6 508.2 505.6 510 505.6 C511.8 505.6 515.2 507.6 517.5 508 C519.8 508.4 522 508.3 523.8 508 C525.5 507.7 527.4 507.6 528 506.2 C528.6 504.9 528 501.7 527.5 500 C527 498.3 525.1 497.2 525 496.2 C524.9 495.3 525.9 494.6 526.9 494.4 C527.9 494.2 529.9 493.9 531.2 495 C532.6 496.1 533.9 499.2 535 501.2 C536.1 503.3 536.5 505.6 538 507.5 C539.5 509.4 541.8 511.1 543.8 512.5 C545.8 513.9 548.5 515.6 550 515.6 C551.5 515.6 553 514.1 553 512.5 C553 510.9 551.3 508.8 550 506.2 C548.7 503.8 546.7 500.2 545 497.5 C543.3 494.8 541.5 492.5 540 490 C538.5 487.5 536.9 484.4 536.2 482.5 C535.6 480.6 535.8 479.7 536.2 478.8 C536.7 477.8 537.8 476.9 538.8 476.9Z" fill="#eba44a" stroke="#fff" stroke-opacity=".92" stroke-width=".8"/>
<path d="M600 493 C600.2 492.3 603.9 491.4 604.4 491.9 C604.9 492.4 603.7 496.1 603 496.2 C602.3 496.4 599.8 493.7 600 493Z" fill="#eba44a" stroke="#fff" stroke-opacity=".92" stroke-width=".8"/>
<path d="M628 512 C628.7 511.9 629.9 514.5 630 515.5 C630.1 516.5 629.2 517.9 628.5 518 C627.8 518.1 626.1 517 626 516 C625.9 515 627.3 512.1 628 512Z" fill="#eba44a" stroke="#fff" stroke-opacity=".92" stroke-width=".8"/>
<path d="M617.6 533 C618 532.2 619.8 531 621 531 C622.2 531 624.8 532.2 625 533 C625.2 533.8 623.1 535.5 622 536 C620.9 536.5 619.2 536.5 618.5 536 C617.8 535.5 617.2 533.8 617.6 533Z" fill="#eba44a" stroke="#fff" stroke-opacity=".92" stroke-width=".8"/>
<g fill="none" stroke="#fff" stroke-opacity=".92" stroke-width=".8">
<ellipse cx="286.7" cy="557.5" rx="2.5" ry="1.2"/><ellipse cx="300" cy="557.5" rx="4" ry="2"/>
<path d="M353.6 614.5 L355 618 L353.6 621 L352.2 618Z"/>
<path d="M571 539.5 L578 538 L574 540.5"/><path d="M583 543.5 L587.5 544.3"/>
</g>
<g stroke="#a8a8a6" stroke-width="1.55" stroke-dasharray="2.2 7.615" fill="none">
<path d="M93 106.7 V901"/>
<path d="M187.3 106.7 V901"/>
<path d="M281.5 106.7 V901"/>
<path d="M375.8 106.7 V901"/>
<path d="M470.1 106.7 V901"/>
<path d="M564.3 106.7 V901"/>
<path d="M658.6 106.7 V901"/>
<path d="M752.9 106.7 V901"/>
<path d="M847.2 106.7 V901"/>
<path d="M941.4 106.7 V901"/>
<path d="M1035.7 106.7 V901"/>
<path d="M1130 106.7 V901"/>
<path d="M42.1 104.3 H1132"/>
<path d="M42.1 160.8 H1132"/>
<path d="M42.1 217.3 H1132"/>
<path d="M42.1 273.8 H1132"/>
<path d="M42.1 330.3 H1132"/>
<path d="M42.1 386.8 H1132"/>
<path d="M42.1 443.3 H1132"/>
<path d="M42.1 499.8 H1132"/>
<path d="M42.1 556.3 H1132"/>
<path d="M42.1 612.8 H1132"/>
<path d="M42.1 669.3 H1132"/>
<path d="M42.1 725.8 H1132"/>
<path d="M42.1 782.3 H1132"/>
<path d="M42.1 838.8 H1132"/>
<path d="M42.1 895.3 H1132"/>
</g>
<g fill="none" stroke="#000" stroke-width="1" stroke-linejoin="round" stroke-linecap="round">
<path d="M105 102 L106 105.5 L105 107.5 L107.1 109 L106.5 112 L108.1 113 L107.9 109 L113.1 108.5 L118.1 111 L123.1 113.5 L124.6 116.1 L123.6 118.1 L126.1 120.6 L128.1 125.1 L131.1 130.1 L130.6 132.6 L133.1 136.1 L133.6 139.1 L137.1 140.6 L141.7 142.6 L143.7 145.1 L143.2 148.2 L141.2 147.1 L137.1 144.1 L133.6 141.1 L131.6 143.6 L131.3 147.1 L133.1 151.2 L135.1 153.7 L140.2 153.2 L144.2 151.7 L146.7 150.2 L149.2 152.2 L152.2 152.7 L157.2 151.2 L159.2 149.2 L160.2 146.6 L162.2 147.1 L164.7 149.2 L166.2 147.1 L169.2 143.1 L171.7 141.1 L172.2 138.1 L170.7 135.1 L170.7 132.1 L172.2 128.1 L173.8 124.6 L175.3 121.1 L177.3 118.1 L178.8 114 L180.8 110.5 L181.8 107 L181.8 102"/>
<path d="M174.3 142.1 L170.2 146.1 L167.7 150.2 L166.2 153.2 L162.2 159.7 L159.2 163.2"/>
<path d="M173.2 143.6 L169.7 148.7 L167.2 152.2"/>
<path d="M170.2 142.6 L167.7 145.6 L166.7 149.2 L169.2 148.2 L171.7 144.6"/>
<path d="M178.3 133.1 L176.3 138.1"/>
<path d="M181.3 113 L179.8 117.1"/>
<path d="M178.3 119.6 L180.3 119.6 L179.3 122.6Z"/>
<path d="M156.2 166.2 L153.2 168.7"/>
<path d="M150.2 170.7 L147.2 172.2"/>
<path d="M143.2 174.2 L138.1 176.2 L133.1 177.7"/>
<path d="M120.1 174.7 L123.1 178.2 L124.6 180.7"/>
<path d="M121.1 175.7 L123.6 179.2"/>
<path d="M114.1 178.2 L116.6 178.2 L118.1 179.7 L115.6 180.7"/>
<path d="M108.1 183.3 L111.1 182.8 L114.1 181.2"/>
<path d="M101 186.3 L105 185.3"/>
<path d="M310 102.2 L313.8 105 L316.2 109.4 L318.8 111 L320 107.5 L319.8 102.2"/>
<path d="M286.2 116.2 L290.6 120"/>
<path d="M271.2 149.4 L273.8 150 L276.9 151.2 L280 150.6 L281.9 153.8 L282.5 158.8 L285 162.5 L286.9 168.1 L290 173.8 L292.5 177.5 L294 181.2 L293.8 186.2 L294.8 190 L291.2 193.1 L287.5 195 L284.4 198.1 L280.6 200 L278.1 197.5 L275.6 193.8 L274.4 190 L270.6 189.4 L266.2 186.9 L262.5 183.8 L261.2 181.2 L263.8 178.1 L267.5 176.9 L267.5 173.8 L270 169.4 L272.5 166.2 L273.8 161.2 L275 156.2 L272.5 152.5Z"/>
<path d="M266.9 177.5 L270.6 180 L270 185 L266.9 183.1Z"/>
<path d="M301.9 158.8 L305 156.9 L310 156.2 L315.6 156.9 L313.8 159.4 L310 161 L305 161.5Z"/>
<path d="M340.6 128.8 L343.1 128.5 L343.8 131.9 L346.2 135 L350 138.8 L355 140.6 L358.8 141.2 L362.5 145 L366.2 149.4 L370 153.1 L370.6 157.5 L368.8 162.5 L369.4 167.5 L367.5 172.5 L367.5 178.1 L365.6 177.5 L363.8 173.8 L360 170.6 L363.8 171.2 L366.2 168.1 L365.6 163.8 L368.1 160 L368.1 155 L365 150.6 L361.2 146.9 L357.5 142.5 L352.5 140.6 L348.1 137.5 L345 135.6 L341.2 136.2 L339 136.5 L340.2 133.1Z"/>
<path d="M387.5 178.8 L390 177.8 L393.1 180.6 L392.5 183.8 L395 187.5 L398.1 192.5 L401.9 197.5 L404.4 201.2 L406.9 205 L409.4 208.8 L405 209.4 L401.2 209.4 L398.8 207.5 L402.5 205 L403.8 201.9 L400 197.5 L396.2 192.5 L393.1 187.5 L390.6 183.1 L388.1 180Z"/>
<path d="M349.4 200 L352.5 203.8"/>
<path d="M283.8 206.2 L286.9 203.8 L290.6 202.5 L295 201.2 L298.1 202.5 L300.6 206.2 L302.5 211.2 L303.1 216.9 L302.5 221.2 L304.4 223.8 L303.1 227.5 L301.9 231.2 L298.1 232.5 L293.8 231.9 L291.9 230.6 L295 227.5 L292.5 225 L290 221.2 L289.4 216.9 L286.2 213.8 L285 210Z"/>
<path d="M293.1 207.5 L297.5 205 L298.1 208.8 L295 214.4Z"/>
<path d="M292.5 196.9 L295 196.2 L296.2 197.8"/>
<path d="M280.6 202.5 L283.1 203.8"/>
<path d="M293.8 230 L298.8 226.9 L302.5 226.2"/>
<path d="M349.4 200.6 L352.5 203.8"/>
<path d="M356.9 210.6 L360 216.9"/>
<path d="M374.4 235 L377.5 235.6 L380 238.8 L383.8 242.5 L388.8 246.2 L393.8 248.8 L398.1 250.6 L392.5 249.4 L386.2 247.5 L381.2 243.8 L376.9 240 L374.4 237.5Z"/>
<path d="M444.4 219.4 L444.4 213.8 L446.2 210 L448.8 208.8 L449.8 212.5 L448.1 216.9 L446.2 219Z"/>
<path d="M425 235 L428.8 233.1 L433.1 233.5 L431.9 236 L428.1 236.5Z"/>
<path d="M406.2 236.9 L408.1 235.2 L410 238.1 L411.9 241.9 L413.8 245.6 L415 250 L417.5 253.8 L418.8 258.1 L418.1 262.5 L420 265.6 L423.8 267.5 L426.9 270 L429.4 273.8 L430.6 277.5 L429.8 280.2 L427.5 276.2 L425.6 272.5 L423.1 269.4 L419.4 268.1 L416.2 266.9 L413.8 263.8 L413.1 261.9 L415.6 263.8 L416.9 260 L416.2 255.6 L413.8 251.9 L411.9 247.5 L410 243.1 L408.1 239.4Z"/>
<path d="M395 248.8 L398.8 250.6"/>
<path d="M478.1 268.1 L481.2 267.2 L484.4 267.8 L483.1 270 L480 270Z"/>
<path d="M453.1 283.1 L455.6 282.5 L459.4 285 L463.1 288.1 L467.2 288.5 L467.5 291.9 L463.8 291.9 L460 291.2 L456.9 291.2 L456.5 287.5 L453.8 285Z"/>
<path d="M456.9 291.5 L455 295 L452.8 298.1 L454 295.6"/>
<path d="M470 290 L473.1 289 L476.9 289 L476.5 293.1 L477.8 298.8 L476.2 302.5 L473.1 306.2 L470.6 310 L466.2 311.9 L462.5 314.4 L459.4 317.5 L456.2 320.2 L457.5 316.9 L461.2 313.1 L465 310 L468.1 306.9 L471.9 304.4 L475 300.6 L475 296.9 L471.9 296.2 L469.4 294.4 L470.6 291.9Z"/>
<path d="M490.6 295 L495 296.2"/>
<path d="M509.4 305 L513.1 304.8 L517.5 306.9 L522.5 307.8 L526.9 310 L529.4 311.9 L527.5 313.5 L523.8 311.2 L520 309.4 L515 310.4 L510.6 310 L509 308.5Z"/>
<path d="M548.1 338.1 L551.2 341.2 L555.6 341.2 L553.8 343.5 L550 343.1Z"/>
<path d="M562.5 333.1 L565.6 332.2 L568.8 334.4 L569.4 338.1 L566.9 337.8 L565 335Z"/>
<path d="M571.2 338.8 L576.2 338.5 L580.6 340 L580 344 L575.6 342.5 L571.2 341.2Z"/>
<path d="M583.8 344.4 L589.4 346.9"/>
<path d="M542.5 346.9 L543.5 350"/>
<path d="M514.4 358.1 L517.5 355.4 L520.6 358.1 L515.6 361.9Z"/>
<path d="M515 368.1 L516.5 372.5 L515 378.8 L511.9 383.8 L510 387.5 L503.8 389.4 L495 390.6 L488.1 390.2 L484.4 389.4 L483.8 385.6 L485.6 381.9 L489.4 378.1 L493.8 375.6 L498.1 374.4 L501.2 377.5 L505 377.5 L508.8 375.6 L511.9 371.9Z"/>
<path d="M604 356.7 L605.3 360.7"/>
<path d="M35 276.2 L37.5 275 L41.2 273.8 L45 274.4 L48.8 272.5 L55 271.9 L61.2 270.6 L66.2 269.4 L71.2 266.2 L76.2 264 L82.5 263.1 L88.8 262.2 L95 263.5 L102.5 264.8 L110 264.4 L113.8 266.2 L115.6 270 L117.5 268.1 L122.5 266.9 L127.5 265 L130 268.8 L132.5 271.9 L137.5 268.8 L142.5 266.9 L148.8 265.6 L155 265 L157.5 267.5 L160 271.2 L165 275.6 L170 277.5 L175 278.5 L176.2 278.1 L180 276.9 L183.8 275.6 L186.2 278.1 L188.8 280.6 L191.9 281.9 L195 280 L193.1 283.1 L196.2 285 L200 286.2 L203.8 287.8 L204.4 285 L206.2 284 L208.8 286.2 L212.5 289.4 L216.2 292.5 L218.5 294.4 L215 292.5 L211.2 290 L207.5 287.8 L205.6 288.1 L204.4 291.2 L206.2 294.4 L209.4 297.5 L212.5 301.2 L216.2 304.4 L220 307.5 L222.5 308.8 L226.2 308.1 L231.2 307.5 L235 307.2 L240 307.5 L243.8 308.1 L245.6 309.4 L246.2 311.9 L247.5 309.4 L251.2 310 L256.2 312.5 L261.2 315 L265 318.1 L270 320.6 L275 323.1 L278.8 325.6 L281.2 328.8 L283.8 331.9 L286.2 335 L287.2 336.9 L288.1 333.1 L290 336.2 L293.1 340 L297.5 341.9 L302.5 342.5 L306.2 341.2 L308.8 345 L311.2 348.1 L315 350 L319.9 351.2 L323.1 353.1 L326.9 356.2 L330 360 L333.8 363.1 L336.9 364.4 L341.2 365.6 L344.4 367.2 L346.2 370 L348.8 371.9 L349.4 375 L352.5 375 L353.8 373.1 L351.2 370.6 L355 370 L359.4 371.2 L363.8 373.8 L367.5 376.9 L370 380 L370.6 381.9 L373.8 381.2 L377.5 380.6 L382.5 380 L387.5 379 L390.6 380 L393.1 382.5 L394.4 386.2 L393.8 390 L391.9 391.9 L389.4 391.2 L388.1 393.1 L390 395 L393.8 393.8 L395.6 396.2 L396.2 398.8 L399.4 399.4 L398.8 401.2 L395 400 L393.1 398.1 L391.2 400 L390 402.5 L387.5 403.5 L386 401.2 L386.2 397.5 L388.1 395"/>
<path d="M398.8 401.2 L402.5 401.9 L406.2 405 L408.8 405.6 L410 402.5 L413.8 402.5 L417.5 403.8 L421.2 404.4 L425 405 L428.8 406.2 L432.5 408.1 L435 409.4 L436.2 412.5 L440 415 L442.5 418.8 L445 421.9 L447.5 423.8 L450 424.8 L453.8 426 L457.5 425.2 L460.6 426.2 L462.5 428.8 L463.5 431.9 L461.2 435 L458.8 438.1 L453.8 438.8 L448.8 439.4 L442.5 440 L436.2 440.6 L431.2 441.9 L427.5 443.8 L425 445.6 L422.5 447.5 L418.8 448.1 L417.5 445.6 L418.1 441.2 L416.2 443.8 L415 445.6 L416.2 448.8 L413.8 448.1 L412.5 446.2 L410 448.8 L405 450 L400 450 L395 448.8 L390 446.2 L385 445 L380 445 L373.8 444.4 L367.5 443.8 L362.5 444.4 L358.8 445.4 L359.9 445 L355 445.6 L350 446 L345 446.2 L340 446.9 L335 447.5 L331.2 448.8 L327.5 450 L323.8 449.4 L320 448.5 L315 448.8 L311.2 450 L306.2 451.9 L301.2 452.5 L296.2 453.1 L293.8 451.2 L294.4 448.8 L296.9 445 L300 441.2 L303.8 437.5 L307.5 434.4 L311.2 431.2 L315.6 428.8 L319.4 426.9 L320.6 424.4 L323.1 421.2 L324.4 417.5 L323.1 415 L320 412.5 L317.5 410 L317.5 406.2 L315 403.8 L311.9 402.2 L308.8 403.1 L305 404.4 L300 405 L296.2 403.8 L291.2 403.1 L287.5 401.9 L283.8 403.8 L280 403.1 L276.9 401.2 L273.8 398.8 L270 395 L266.2 391.2 L262.5 388.8 L259.4 385.6 L258.1 381.9 L256.9 375.6 L257.2 370 L255 365 L252.5 358.8 L250 355.6 L246.2 355 L246.9 354.4 L248.1 353.8 L247.5 351.2 L245 351 L240 351.2 L233.8 352.5 L228.8 354.4 L224.4 356 L221.2 355 L216.2 353.8 L211.2 351.9 L206.2 350 L203.1 347.5 L200 348.1 L196.9 346.9 L193.8 348.1 L191.9 344.4 L187.5 344.4 L185 341.9 L179.9 339.4 L179.9 339.4 L175 336.9 L171.2 333.8 L167.5 329.4 L165.6 326.9 L163.8 323.8 L162.5 320.6 L164.4 319.4 L166.2 320.6 L168.1 324.4 L166.9 326.5 L164.4 326.2 L158.8 326.5 L152.5 326.2 L146.2 327.2 L141.2 326.9 L136.2 325 L133.8 321.2 L133.1 316.2 L131.9 315 L130.6 323.1 L129.6 326.9 L130 316.2 L129.4 320 L126.9 323.1 L123.8 323.8 L121.2 321.2 L117.5 319.4 L112.5 319.4 L107.5 318.1 L104.4 320 L101.2 318.8 L97.5 315 L92.5 312.5 L87.5 310 L85 307.5 L87.5 306 L92.5 305.6 L100 305.4 L105 304.4 L108.8 301.9 L109.4 298.1 L106.2 294.4 L101.2 291.9 L95 291.5 L87.5 292.2 L80 290.6 L72.5 291.2 L63.8 291.9 L57.5 290.4 L55.6 291.9 L53.8 295 L48.8 298.8 L43.8 301.2 L40.6 305 L38.1 310.6 L35 311.2"/>
<path d="M127.5 265 L132.5 261.2"/>
<path d="M159.4 262.8 L163.8 262.5 L162.5 264Z"/>
<path d="M45.6 333.1 L50 333.1 L55 334.4 L60 336.9 L61.9 340.6 L64.4 344.4 L66.2 350 L65 354.4 L61.2 357.5 L56.2 360.6 L50.6 362.2 L46.2 361.2 L42.5 360.6 L40 357.5 L37.2 353.8 L38.8 353.1 L42.5 355.6 L47.5 352.5 L45.6 348.1 L43.1 344.4 L41.5 340.6 L43.8 336.2Z"/>
<path d="M113.1 352.5 L117.5 348.8 L122.5 346 L120 349.4 L116.2 351.9Z"/>
<path d="M170 276.9 L172.5 277.5 L176.2 278.1 L175 275 L172.5 273.8 L170 275"/>
<path d="M176.9 266.9 L179.4 268.1 L177.5 268.5Z"/>
<path d="M183.1 269.4 L185 271.9"/>
<path d="M188.8 275.6 L191.2 276.9"/>
<path d="M230 292.2 L236.2 292.5 L233.1 293Z"/>
<path d="M248.8 298.8 L252.5 300 L257.5 299.4 L262.5 298.1 L265.6 300 L267.5 303.8 L271.2 305 L275 306.2 L277.5 309.4 L278.8 313.1 L276.2 312.5 L273.1 310.6 L270.6 308.8 L270 310.6 L268.8 307.5 L265 305 L261.9 306.9 L261.2 305 L257.5 303.1 L253.8 303.1 L250 301.9Z"/>
<path d="M280.6 313.8 L285 316.2 L287.5 319.4 L290 322.5 L293.8 325 L298.1 326.2 L298.8 330 L297.5 333.1 L293.8 331.9 L290.6 330 L288.8 330.6 L287.5 333.1 L285 330 L282.5 326.2 L281.2 322.5 L280.6 317.5Z"/>
<path d="M283.1 324.4 L288.1 323.1 L290 325.6"/>
<path d="M286.2 318.1 L288.1 320"/>
<path d="M286.9 312.5 L290 316.2 L292.5 320"/>
<path d="M300.6 335 L303.1 334.4 L306.2 338.1 L310 340.6 L315 343.8 L319.9 347.5 L321.9 350"/>
<path d="M300.6 336.2 L303.8 340 L307.5 342.5 L310 345 L307.5 346.9 L308.8 349.4 L312.5 351.2 L316.2 353.1 L315.6 356.2 L316.2 358.8 L319.9 359.4"/>
<path d="M300 336.2 L302.5 334.4 L305 336.2 L307.5 340 L312.5 343.8 L317.5 347.5 L321.9 350.6 L323.1 353.8 L321.2 358.8 L317.5 359.8 L315.6 357.5 L317.5 355 L315 353.1 L311.9 351.9 L310 349.4 L307.5 346.9 L306.2 343.8 L303.8 341.9 L300 343.1"/>
<path d="M333.1 368.8 L335.6 366.9 L336.9 368.1"/>
<path d="M341.2 370 L343.8 372.5 L345 371.2"/>
<path d="M215.6 379.4 L218.1 380 L220 381.9 L217.5 381.5Z"/>
<path d="M223.8 385.6 L227.5 389.4"/>
<path d="M228.8 390.6 L231.2 392.5"/>
<path d="M232.5 393.1 L234.4 395"/>
<path d="M236.2 396.9 L240 398.1"/>
<path d="M241.9 400 L244.4 401.5"/>
<path d="M255 403.1 L259.4 402.2"/>
<path d="M259.4 408.8 L263.8 411.9 L265.6 412.5 L263.1 412.8Z"/>
<path d="M575.6 459.4 L572.5 460 L572.5 461.9 L570 462.2 L570 460 L567.5 459.4 L563.8 458.8 L560 457.8 L556.9 457.2 L554.4 456.2 L551.9 457.2 L549.4 458.8 L548.1 456.9 L545.6 454.4 L541.2 452.5 L536.2 450 L531.2 447.5 L526.2 446 L520 446.2 L513.8 446.9 L507.5 448.5 L502.5 450.6 L498.8 453.1 L496.2 455.6 L495 459.4 L496.2 462.5 L500 464.4 L505 465 L510 464.4 L515 465.6 L520 468.1 L525 471.2 L528.8 474.4 L531.9 475.6 L530 478.1 L529.4 482.5 L527.5 485 L526.2 487.5 L528.1 490.6 L530 493.1 L527.5 494.4 L526.2 496.2 L528.1 498.8 L531.2 501.2 L533.8 504.4 L536.2 508.1 L540 510.6 L544.4 512.5 L547.5 516.2 L548.1 521.2 L548.1 522.5 L546.2 524.8 L540 524.4 L535.6 525 L533.1 528.1 L531.2 531.2 L527.5 531.9 L521.2 531 L515 530.2 L510 529.8 L505 529 L498.8 528.1 L492.5 526.9 L487.5 526.9 L485.6 524.4 L482.5 523.1 L480 525 L475 523.5 L470.6 522.5 L466.9 520.6 L462.5 518.8 L457.5 518.5 L452.5 520 L449.4 523.1 L448.1 526.9 L447.2 531.2 L448.8 535.6 L452.5 539.4 L456.2 540 L460 539.4 L463.8 541.9 L467.5 545 L470.6 548.1 L473.1 551.2 L475 553.8 L478.1 554 L479.4 552.5 L477.5 550 L478.8 546.9 L481.9 544.4 L484.4 542.5 L486.9 543.8 L490 542.5 L495 541.9 L500 541.9 L505 543.5 L510 544.8 L515 546.2 L520 547.5 L525 548.1 L529.4 546.9 L532.5 546 L538.1 546 L538.8 543.8 L543.8 543.8 L548.8 543.1 L555 542.8 L560 542.5 L563.8 544 L567.5 546.2 L570.6 549.4 L573.1 552.5 L576.2 554.4 L578.8 556.9 L580 560 L580.6 563.8 L581.9 568.1 L585 569.4 L587.5 571.9 L588.8 575 L589.9 576.2 L590 576.3 L591.7 577.1 L594.2 573.8 L597.5 566.3 L601.7 560.4 L605.9 553.7 L606.7 547 L606.7 542 L610.1 539.5 L614.2 540.3 L617.6 537 L620.9 536.2 L623.4 532.8 L627.6 532 L630.1 534.5 L631 540.3 L634.3 544.5 L640.2 543.3 L646.9 542.8 L651 542 L654.4 537.8 L657.7 532.8 L662.7 530 L667.8 530.3 L671.9 531.6 L677 531.1 L681.1 532.8 L687 531.6 L693.7 530.8 L698.7 531.6 L703.7 532 L708.7 532.8 L712.9 535.3 L714.6 539.5 L716.3 544.5 L718.8 546.2 L722.1 544.5 L723.8 540.3 L725.5 537 L730.5 536.2 L733 533.6 L735.5 527.8 L737.7 521.9 L733.8 517.8 L728.8 512.7 L723.8 507.7 L720.4 504.4 L715.4 501 L710.4 499.4 L707.9 497.7 L703.7 500.2 L700.4 499.4 L695.4 497.7 L690.3 496 L685.3 493.2 L680.3 493.5 L676.1 494.3 L675.3 490.2 L677 487.7 L683.6 487.7 L690.3 487.7 L695.4 488.5 L697.9 485.2 L695.4 483.5 L694.5 479.3 L692 481 L687 480.1 L680.3 481 L675.3 482.6 L670.3 482.6 L666.9 478.5 L664.4 473.4 L663.6 466.8 L661.1 461.7 L656.9 460.9 L651.9 464.2 L646.9 462.6 L641.8 459.2 L636.8 455.1 L633.5 456.7 L626.8 455.9 L621.8 451.7 L616.8 448.4 L611.7 447 L606.7 447.5 L603.4 451.7 L596.7 452.5 L590 450 L589.9 448.5 L585.6 447.9 L581.2 448.8 L577.5 450.6 L575.6 453.8 L575.6 459.4Z"/>
<path d="M575.6 459.4 L576.9 463.8 L578.1 468.8 L578.1 473.8 L576.9 478.1 L575.6 481.2 L577.5 484.4 L580.6 487.5 L581.2 491.2 L578.8 495 L575.6 498.1 L572.5 500 L570.6 501.2 L574.4 503.1 L576.9 506.9 L577.5 511.2 L576.2 515.6 L573.1 518.8 L570 520.6 L566.9 521.2"/>
<path d="M563.1 520 L561.9 522.5 L563.8 525.6 L566.2 528.1 L568.1 528.8 L566.9 525.6 L565 522.5 L564.4 520Z"/>
<path d="M573.1 526.9 L578.8 524.4 L583.8 526.9 L586.9 530 L585.6 532.2 L580 531.2 L575.6 529.4Z"/>
<path d="M568.1 528.8 L571.2 531.9 L575 535 L577.5 538.8 L576.2 543.8 L575.6 550.9 L575 554.4"/>
<path d="M519.4 438.8 L523.1 437.8 L527.5 438.5 L531.9 440.6 L534.4 442.5 L531.2 443.1 L526.2 441.9 L521.2 440.6Z"/>
<path d="M503.1 503.1 L505.6 501.2 L510 501.9 L515 504.4 L520 506.9 L524.4 508.8 L526.2 512.5 L525.6 516.2 L521.2 514.4 L516.2 513.1 L511.2 510.6 L507.5 508.8 L504.4 506.2Z"/>
<path d="M479.4 521.2 L481.9 520.2 L483.8 521.9 L481.9 523.1Z"/>
<path d="M484.4 523.1 L487.5 522.5 L486.9 525 L485 524.8Z"/>
<path d="M483.1 551 L486.2 550.2 L489.4 551.2 L486.2 552.2Z"/>
<path d="M585.6 578.8 L587.5 577.8 L588.5 580 L586.5 581.2Z"/>
<path d="M717.1 547 L722.1 546.2 L725.5 547.9 L722.1 549.5 L717.9 549Z"/>
<path d="M755.6 550.4 L758.1 549 L759.7 551.2 L757.2 552.9Z"/>
<path d="M791.2 528.8 L792.5 526.9 L796.2 526.2 L800 527.5 L805 527.8 L810 528.5 L815 529 L820 528.5 L825 528.1 L830 528.5 L835 529.4 L840 530 L842.5 531.9 L843.8 530.6 L848.8 530.2 L853.8 531.2 L857.5 533.1 L861.2 534.4 L864.4 534.8 L865 538.8 L865.6 542.5 L862.5 544.4 L859.4 546.2 L857.5 549.4 L856.2 552.5 L853.8 555 L851.2 556.9 L847.5 557.5 L843.8 557.8 L841.2 559.4 L837.5 560.6 L833.8 559.8 L830.6 557.5 L827.5 558.5 L823.8 556.9 L820 558.1 L816.2 557.8 L812.5 558.5 L810 556.5 L806.2 558.8 L802.5 560 L798.8 557.8 L795 558.8 L791.2 559.4 L790.2 556.2 L791.2 552.5 L791.9 548.1 L792.5 543.8 L791.2 540 L788.8 537.5 L787.5 535 L789.4 533.1 L791.9 532.5Z"/>
<path d="M877.5 536.9 L880.6 537.2 L882.8 538.8 L881 540.6 L879 538.8Z"/>
<path d="M867.1 550 L872.5 546.9 L877.5 546.5 L880.6 547.8 L876.2 549.8 L871.2 551.2 L867.5 551.5Z"/>
<path d="M892.5 535.6 L896.9 535 L900.6 536.9 L901.5 538.8 L897.5 537.8 L894.4 536.9Z"/>
<path d="M905.4 536.2 L907.5 535 L908.8 536.9 L907.5 538.5 L905.6 538.1Z"/>
<path d="M908.1 533.1 L910.6 531.2 L913.8 530.4 L914.4 531.9 L911.2 533.1 L909.4 534.4Z"/>
<path d="M921.2 514.4 L925 513.8 L928.8 515.6 L925 515.6Z"/>
<path d="M921 527.5 L925.6 526.9 L922.5 530.6Z"/>
<path d="M899.4 569.4 L901.9 568.1 L906.2 568.8 L911.2 569.4 L914.8 570.2 L911.2 571.9 L906.2 573.1 L901.9 573.8 L899.4 573.1Z"/>
<path d="M980 546.9 L983.8 543.8 L987.5 541.5 L989 543.1 L985.6 545 L981.9 546.5Z"/>
<path d="M981.2 551.9 L984.4 550 L986.9 549.4 L987.9 553.1 L986.2 555 L983.1 553.8Z"/>
<path d="M993.8 560 L996.9 561.5"/>
<path d="M988.1 584.4 L990.6 584.4 L989.4 586.9Z"/>
<path d="M994.4 591.2 L996.9 589.4 L1000 590.6 L1002.5 594.4 L1004.4 598.1 L1005.6 600 L1003.1 598.1 L1000 596.2 L996.2 595 L994.4 592.5Z"/>
<path d="M1006 601.9 L1008.8 601 L1010.6 602.5 L1010 606.9 L1006.9 607.5 L1005.6 605Z"/>
<path d="M1041.2 573.1 L1044.4 573.8 L1047.5 576.2 L1048.1 580 L1046 581.9 L1043.1 580.6 L1041.9 576.9Z"/>
<path d="M1041.9 604.4 L1045 603.1 L1048.8 605 L1050.6 608.8 L1048.8 613.1 L1045 613.8 L1041.9 612.5 L1040.2 608.8Z"/>
<path d="M1025.6 623.1 L1028.1 625.6 L1029 628.8 L1027.5 631 L1025 630 L1024.4 626.9Z"/>
<path d="M1045 650.6 L1048.8 649.4 L1052.5 650.6 L1055 653.8 L1056.2 658.8 L1056.2 664.4 L1055 668.8 L1051.9 671.5 L1048.8 670 L1046.5 666.2 L1045.6 661.2 L1044.8 655.6Z"/>
<path d="M1055.4 653.8 L1058.1 649.4 L1057.5 644.4 L1058.8 641.2 L1060.6 640 L1063.1 641.9 L1063.8 646.9 L1066.9 650.6 L1071.2 653.1 L1074.8 655.2 L1070 655.6 L1065 656.2 L1060.6 657.8 L1057.5 656.9 L1055.6 655Z"/>
<path d="M1078.8 651.9 L1083.1 649.8 L1081.2 651.2Z"/>
<path d="M1066.5 673.1 L1067.5 670.6 L1070 669.6 L1072.5 670.6 L1073.5 673.1 L1072.5 675.6 L1070 676.6 L1067.5 675.6Z"/>
<path d="M1060 690.6 L1063.1 690 L1066.9 692.5 L1069.4 696.2 L1070.6 701.2 L1070 707.5 L1068.1 712.5 L1065.6 714.4 L1063.8 710 L1062.5 705 L1060.6 700 L1059.4 695Z"/>
<path d="M1071.9 733.8 L1074.4 732.2 L1078.8 733.8 L1082.5 736.9 L1085 739.4 L1086.9 738.8 L1086.9 741.2 L1085 743.8 L1088.1 746.2 L1090 750 L1091.2 754.4 L1090.6 758.1 L1088.8 759.8 L1088.1 757.2 L1085 756.2 L1081.2 755.6 L1078.1 755 L1077.5 751.9 L1081.2 751.2 L1081.2 748.1 L1078.1 747.5 L1075.6 743.8 L1073.8 739.4 L1071.5 736.2Z"/>
<path d="M1083.8 777.5 L1086.2 777.2 L1088.1 780.6 L1088.1 787.5 L1086.9 793.8 L1085 798.5 L1081.9 796.9 L1079.4 793.8 L1078.8 788.1 L1080.6 782.5Z"/>
<path d="M1072.5 817.5 L1075.6 817.2 L1076.9 820 L1076.2 825 L1074.4 830 L1071.2 830 L1070 826.2 L1070.6 821.2Z"/>
<path d="M1070 839 L1072.8 836.2 L1071.9 838.1Z"/>
<path d="M1066.7 853.3 L1068 855.8"/>
<path d="M1059.2 867.5 L1062.5 865.8 L1062.5 870 L1060 870Z"/>
<path d="M551.9 901 L554.4 897.2 L556.2 892.2 L557.5 887.2 L555.6 882.9 L557.5 881.6 L561.9 881 L565 881.6 L564.4 884.8 L566.2 886 L569.4 883.5 L570 880.4 L566.9 879.1 L568.1 877.2 L570.6 875.4 L572.5 876.6 L576.2 874.8 L577.5 872.2 L578.8 869.8 L582.5 869.1 L586.2 869.8 L590 871.6 L593.8 873.5 L597.5 875.4 L600.6 878.5 L602.5 882.2 L604.4 886 L605.6 889.8 L605 893.5 L601.9 896.6 L598.8 899.1 L596.2 901"/>
<path d="M576.9 871 L579.4 870.4 L580.6 872.2 L578.1 873.5Z"/>
<path d="M644.4 901 L646.2 896 L648.1 891 L648.8 889.1 L651.9 888.5 L654.4 886 L657.5 884.1 L661.2 885.4 L663.8 889.1 L665.6 893.5 L666.9 897.2 L667.5 901"/>
<path d="M655 860.4 L656.9 860 L660 863.5 L663.1 867.9 L664.4 871 L661.9 870.8 L658.8 867.2 L656.2 863.5Z"/>
<path d="M697.5 873.5 L700 873.2 L702.5 876 L703.1 879.8 L706.2 883.5 L710 885.4 L713.8 886.6 L716.2 889.8 L716.9 892 L713.8 892.9 L710 891 L706.2 888.5 L702.5 884.8 L699.4 880.4 L697.5 876.6Z"/>
<path d="M733.1 879.1 L735 877.2 L738.1 879.8 L741.9 882.2 L743.5 883.5 L743.1 887.2 L742.5 891 L740.6 894.1 L739.4 891 L738.8 887.2 L737.5 884.1 L734.4 882.9Z"/>
<path d="M34.8 723.8 L37.5 725 L40 725.9 L37.5 728.1 L35 730.6"/>
<path d="M34.8 750 L36.9 756.2 L37.5 761.2 L36.2 766.2 L34.8 770"/>
<path d="M55 761.2 L56.9 758.8 L58.8 758.5 L58.5 761.2 L56.2 761.6Z"/>
<path d="M121.7 820 L123.3 817 L124 818 L122.7 820.7Z"/>
<path d="M106 867.3 L106.7 861.3 L107.7 862 L107 868Z"/>
<path d="M120.6 477.5 L122.5 477.2 L123.1 480 L125.6 480.6 L127.5 479 L131.2 479 L135 479.4 L136 481.2 L135 483.1 L131.2 483.5 L128.1 483.8 L125.6 484.8 L122.5 484.4 L120.6 483.8 L120.2 480.6Z"/>
<path d="M181.2 462.5 L183.8 460.6 L187.5 459.4 L186.2 461.2 L183.1 462.8Z"/>
<path d="M192.2 460 L195 458.5 L198.1 456.5 L198.8 458.5 L195.6 460Z"/>
<path d="M282.5 529.4 L286.2 526.2 L291.2 526.9 L297.5 528.1 L303.8 528.8 L310 530 L316.2 530.6 L322.5 533.1 L327.5 533.8 L332.5 533.5 L336.2 536.9 L339.4 541.2 L343.8 541.9 L347.5 543.8 L352.5 545 L356.9 546.9 L360 548.8 L361.9 552.5 L363.1 556.2 L365.6 560 L364.4 562.5 L360.6 562.8 L356.9 563.8 L352.5 564 L348.8 563.1 L345.6 560.6 L342.5 559.4 L338.1 559.8 L337.5 557.5 L335 559.4 L333.1 562.5 L331.2 565 L328.1 565.6 L325.6 562.5 L323.1 562.8 L321.2 565.6 L319.8 569 L322.5 571.2 L321 573.1 L318.1 571.9 L315 569.4 L311.9 566.9 L309.4 564.4 L305 564.8 L300 564 L293.8 564 L290.6 561.9 L288.1 558.1 L285 554.4 L281.9 550.6 L280 546.9 L278.1 545 L274.4 545.2 L270 544.8 L265.6 543.5 L263.8 541.2 L265.2 538.1 L265.6 535 L268.1 533.1 L270.6 531.2 L275 531 L280 530.6Z"/>
</g>
</g>
<path d="M30 98H1138V906H30Z M34.8 101.8V901.3H1132.6V101.8Z" fill="#fff" fill-rule="evenodd"/>
<rect x="915.8" y="877.4" width="208.2" height="20.4" fill="#fff" stroke="#adadad" stroke-width="1.5"/>
<text x="931.3" y="893.5" font-family="Liberation Sans, sans-serif" font-size="14.3" fill="#1e9bff" textLength="21.6" lengthAdjust="spacingAndGlyphs">Sis</text>
<text x="955" y="893.5" font-family="Liberation Sans, DejaVu Sans, sans-serif" font-size="19" fill="#1a1aff" textLength="14.6" lengthAdjust="spacingAndGlyphs">ππ</text>
<text x="974" y="893.5" font-family="Liberation Sans, sans-serif" font-size="14.2" fill="#4a4a4a" textLength="8.7" lengthAdjust="spacingAndGlyphs">–</text>
<text x="991.8" y="893.5" font-family="Liberation Sans, sans-serif" font-size="14.2" fill="#4a4a4a" textLength="127.5" lengthAdjust="spacingAndGlyphs">ONAMET/REP.DOM.</text>
<rect x="1144.3" y="98.3" width="18.4" height="805.4000000000001" fill="#d8dcdc"/>
<rect x="1146.1" y="100.0" width="14.8" height="802.0" fill="#f3eded"/>
<rect x="1146.1" y="100" width="14.8" height="42.58" fill="#ebebeb"/>
<rect x="1146.1" y="143.7" width="14.8" height="43.63" fill="#edf3d3"/>
<rect x="1146.1" y="188.4" width="14.8" height="43.63" fill="#e7f19f"/>
<rect x="1146.1" y="233.1" width="14.8" height="43.63" fill="#a6ca64"/>
<rect x="1146.1" y="277.9" width="14.8" height="43.63" fill="#e1e91a"/>
<rect x="1146.1" y="322.6" width="14.8" height="43.63" fill="#fdea00"/>
<rect x="1146.1" y="367.3" width="14.8" height="43.63" fill="#ffec83"/>
<rect x="1146.1" y="412.1" width="14.8" height="43.63" fill="#f3cf7f"/>
<rect x="1146.1" y="456.8" width="14.8" height="43.63" fill="#eba44a"/>
<rect x="1146.1" y="501.6" width="14.8" height="43.63" fill="#e58c3d"/>
<rect x="1146.1" y="546.3" width="14.8" height="43.63" fill="#db7c3c"/>
<rect x="1146.1" y="591" width="14.8" height="43.63" fill="#ef053d"/>
<rect x="1146.1" y="635.8" width="14.8" height="43.63" fill="#e8529f"/>
<rect x="1146.1" y="680.5" width="14.8" height="43.63" fill="#9a70a8"/>
<rect x="1146.1" y="725.2" width="14.8" height="43.63" fill="#6070f5"/>
<rect x="1146.1" y="770" width="14.8" height="43.63" fill="#7e93fc"/>
<rect x="1146.1" y="814.7" width="14.8" height="43.63" fill="#8daeff"/>
<rect x="1146.1" y="859.4" width="14.8" height="42.58" fill="#b9c8ff"/>
<g font-family="Liberation Sans, sans-serif" font-size="12.7" fill="#161616">
<text x="1165.6" y="148" textLength="33.4" lengthAdjust="spacingAndGlyphs">5.831</text>
<text x="1165.6" y="192.8" textLength="33.4" lengthAdjust="spacingAndGlyphs">5.819</text>
<text x="1165.6" y="237.5" textLength="33.4" lengthAdjust="spacingAndGlyphs">5.807</text>
<text x="1165.6" y="282.2" textLength="33.4" lengthAdjust="spacingAndGlyphs">5.795</text>
<text x="1165.6" y="327" textLength="33.4" lengthAdjust="spacingAndGlyphs">5.783</text>
<text x="1165.6" y="371.7" textLength="33.4" lengthAdjust="spacingAndGlyphs">5.772</text>
<text x="1165.6" y="416.4" textLength="25.8" lengthAdjust="spacingAndGlyphs">5.76</text>
<text x="1165.6" y="461.2" textLength="33.4" lengthAdjust="spacingAndGlyphs">5.748</text>
<text x="1165.6" y="505.9" textLength="33.4" lengthAdjust="spacingAndGlyphs">5.736</text>
<text x="1165.6" y="550.6" textLength="33.4" lengthAdjust="spacingAndGlyphs">5.724</text>
<text x="1165.6" y="595.4" textLength="33.4" lengthAdjust="spacingAndGlyphs">5.712</text>
<text x="1165.6" y="640.1" textLength="18.6" lengthAdjust="spacingAndGlyphs">5.7</text>
<text x="1165.6" y="684.8" textLength="33.4" lengthAdjust="spacingAndGlyphs">5.688</text>
<text x="1165.6" y="729.6" textLength="33.4" lengthAdjust="spacingAndGlyphs">5.676</text>
<text x="1165.6" y="774.3" textLength="33.4" lengthAdjust="spacingAndGlyphs">5.664</text>
<text x="1165.6" y="819" textLength="33.4" lengthAdjust="spacingAndGlyphs">5.652</text>
<text x="1165.6" y="863.8" textLength="25.8" lengthAdjust="spacingAndGlyphs">5.64</text>
</g>
<g font-family="Liberation Sans, sans-serif" font-size="13" font-weight="bold" fill="#a9a9a9" stroke="#a9a9a9" stroke-width=".35">
<text x="4.6" y="109" textLength="20.6" lengthAdjust="spacingAndGlyphs">26N</text>
<rect x="28.5" y="103.5" width="2.1" height="1.5"/>
<text x="4.6" y="165.5" textLength="20.6" lengthAdjust="spacingAndGlyphs">25N</text>
<rect x="28.5" y="160.1" width="2.1" height="1.5"/>
<text x="4.6" y="222" textLength="20.6" lengthAdjust="spacingAndGlyphs">24N</text>
<rect x="28.5" y="216.6" width="2.1" height="1.5"/>
<text x="4.6" y="278.5" textLength="20.6" lengthAdjust="spacingAndGlyphs">23N</text>
<rect x="28.5" y="273.1" width="2.1" height="1.5"/>
<text x="4.6" y="335" textLength="20.6" lengthAdjust="spacingAndGlyphs">22N</text>
<rect x="28.5" y="329.6" width="2.1" height="1.5"/>
<text x="4.6" y="391.5" textLength="20.6" lengthAdjust="spacingAndGlyphs">21N</text>
<rect x="28.5" y="386.1" width="2.1" height="1.5"/>
<text x="4.6" y="448" textLength="20.6" lengthAdjust="spacingAndGlyphs">20N</text>
<rect x="28.5" y="442.6" width="2.1" height="1.5"/>
<text x="4.6" y="504.5" textLength="20.6" lengthAdjust="spacingAndGlyphs">19N</text>
<rect x="28.5" y="499.1" width="2.1" height="1.5"/>
<text x="4.6" y="561" textLength="20.6" lengthAdjust="spacingAndGlyphs">18N</text>
<rect x="28.5" y="555.5" width="2.1" height="1.5"/>
<text x="4.6" y="617.5" textLength="20.6" lengthAdjust="spacingAndGlyphs">17N</text>
<rect x="28.5" y="612" width="2.1" height="1.5"/>
<text x="4.6" y="674" textLength="20.6" lengthAdjust="spacingAndGlyphs">16N</text>
<rect x="28.5" y="668.5" width="2.1" height="1.5"/>
<text x="4.6" y="730.5" textLength="20.6" lengthAdjust="spacingAndGlyphs">15N</text>
<rect x="28.5" y="725" width="2.1" height="1.5"/>
<text x="4.6" y="787" textLength="20.6" lengthAdjust="spacingAndGlyphs">14N</text>
<rect x="28.5" y="781.5" width="2.1" height="1.5"/>
<text x="4.6" y="843.5" textLength="20.6" lengthAdjust="spacingAndGlyphs">13N</text>
<rect x="28.5" y="838" width="2.1" height="1.5"/>
<text x="4.6" y="900" textLength="20.6" lengthAdjust="spacingAndGlyphs">12N</text>
<rect x="28.5" y="894.5" width="2.1" height="1.5"/>
<text x="82.2" y="918.6" textLength="21.6" lengthAdjust="spacingAndGlyphs">82W</text>
<rect x="92.3" y="905.5" width="1.4" height="2"/>
<text x="176.5" y="918.6" textLength="21.6" lengthAdjust="spacingAndGlyphs">80W</text>
<rect x="186.6" y="905.5" width="1.4" height="2"/>
<text x="270.7" y="918.6" textLength="21.6" lengthAdjust="spacingAndGlyphs">78W</text>
<rect x="280.8" y="905.5" width="1.4" height="2"/>
<text x="365" y="918.6" textLength="21.6" lengthAdjust="spacingAndGlyphs">76W</text>
<rect x="375.1" y="905.5" width="1.4" height="2"/>
<text x="459.3" y="918.6" textLength="21.6" lengthAdjust="spacingAndGlyphs">74W</text>
<rect x="469.4" y="905.5" width="1.4" height="2"/>
<text x="553.5" y="918.6" textLength="21.6" lengthAdjust="spacingAndGlyphs">72W</text>
<rect x="563.6" y="905.5" width="1.4" height="2"/>
<text x="647.8" y="918.6" textLength="21.6" lengthAdjust="spacingAndGlyphs">70W</text>
<rect x="657.9" y="905.5" width="1.4" height="2"/>
<text x="742.1" y="918.6" textLength="21.6" lengthAdjust="spacingAndGlyphs">68W</text>
<rect x="752.2" y="905.5" width="1.4" height="2"/>
<text x="836.4" y="918.6" textLength="21.6" lengthAdjust="spacingAndGlyphs">66W</text>
<rect x="846.5" y="905.5" width="1.4" height="2"/>
<text x="930.6" y="918.6" textLength="21.6" lengthAdjust="spacingAndGlyphs">64W</text>
<rect x="940.7" y="905.5" width="1.4" height="2"/>
<text x="1024.9" y="918.6" textLength="21.6" lengthAdjust="spacingAndGlyphs">62W</text>
<rect x="1035" y="905.5" width="1.4" height="2"/>
<text x="1119.2" y="918.6" textLength="21.6" lengthAdjust="spacingAndGlyphs">60W</text>
<rect x="1129.3" y="905.5" width="1.4" height="2"/>
</g>
<text y="33.2" font-family="Liberation Sans, sans-serif" font-size="31" fill="#151515" stroke="#fff" stroke-width=".75" xml:space="preserve"><tspan x="166.50" letter-spacing="2.76">Mapa</tspan> <tspan x="275.75" letter-spacing="4.73">de</tspan> <tspan x="334.50" letter-spacing="3.04">Espesor</tspan> <tspan x="487.75" letter-spacing="5.38">500</tspan><tspan x="552.21" textLength="35.58" lengthAdjust="spacingAndGlyphs">-</tspan><tspan x="585.62" letter-spacing="3.71">1000</tspan> <tspan x="688.12" letter-spacing="5.42">(km,</tspan> <tspan x="786.62" letter-spacing="4.19">somd.</tspan> <tspan x="912.74" letter-spacing="0.00">+</tspan> <tspan x="957.15" letter-spacing="4.15">cont.)</tspan></text>
<text y="61.2" font-family="Liberation Sans, sans-serif" font-size="18.2" fill="#2a2aff" xml:space="preserve"><tspan x="59.66" textLength="23.93" lengthAdjust="spacingAndGlyphs">24</tspan><tspan x="82.96" textLength="16.58" lengthAdjust="spacingAndGlyphs">-</tspan><tspan x="99.00" letter-spacing="0.78">Dic</tspan><tspan x="127.16" textLength="16.48" lengthAdjust="spacingAndGlyphs">-</tspan><tspan x="143.63" letter-spacing="2.24">2025</tspan> <tspan x="290.13" letter-spacing="2.37">2100</tspan> <tspan x="348.91" textLength="35.68" lengthAdjust="spacingAndGlyphs">UTC</tspan> <tspan x="400.44" letter-spacing="0.00">/</tspan> <tspan x="419.65" letter-spacing="1.86">5:00</tspan> <tspan x="471.91" textLength="28.58" lengthAdjust="spacingAndGlyphs">pm</tspan> <tspan x="512.50" letter-spacing="1.03">Hora</tspan> <tspan x="566.10" letter-spacing="1.51">Local</tspan></text>
<text y="82.2" font-family="Liberation Sans, sans-serif" font-size="15.8" fill="#0c96ff" xml:space="preserve"><tspan x="50.50" letter-spacing="1.72">Pronóstico</tspan> <tspan x="151.12" letter-spacing="2.21">con</tspan> <tspan x="191.37" letter-spacing="1.34">el</tspan> <tspan x="215.05" letter-spacing="1.26">Modelo</tspan> <tspan x="283.70" letter-spacing="1.70">Atmósferico</tspan> <tspan x="394.05" textLength="33.90" lengthAdjust="spacingAndGlyphs">WRF</tspan> <tspan x="437.40" letter-spacing="1.41">inicializado</tspan> <tspan x="540.85" letter-spacing="0.00">a</tspan> <tspan x="560.00" letter-spacing="1.91">las</tspan> <tspan x="595.27" letter-spacing="1.35">1800UTC_24DIC2025</tspan> <tspan x="784.30" letter-spacing="0.00">y</tspan> <tspan x="802.87" letter-spacing="1.20">válido</tspan> <tspan x="860.37" letter-spacing="1.88">hasta</tspan> <tspan x="917.00" letter-spacing="1.86">las</tspan> <tspan x="961.87" letter-spacing="1.34">1800UTC_27DIC2025</tspan></text>
</svg>
</body></html>
